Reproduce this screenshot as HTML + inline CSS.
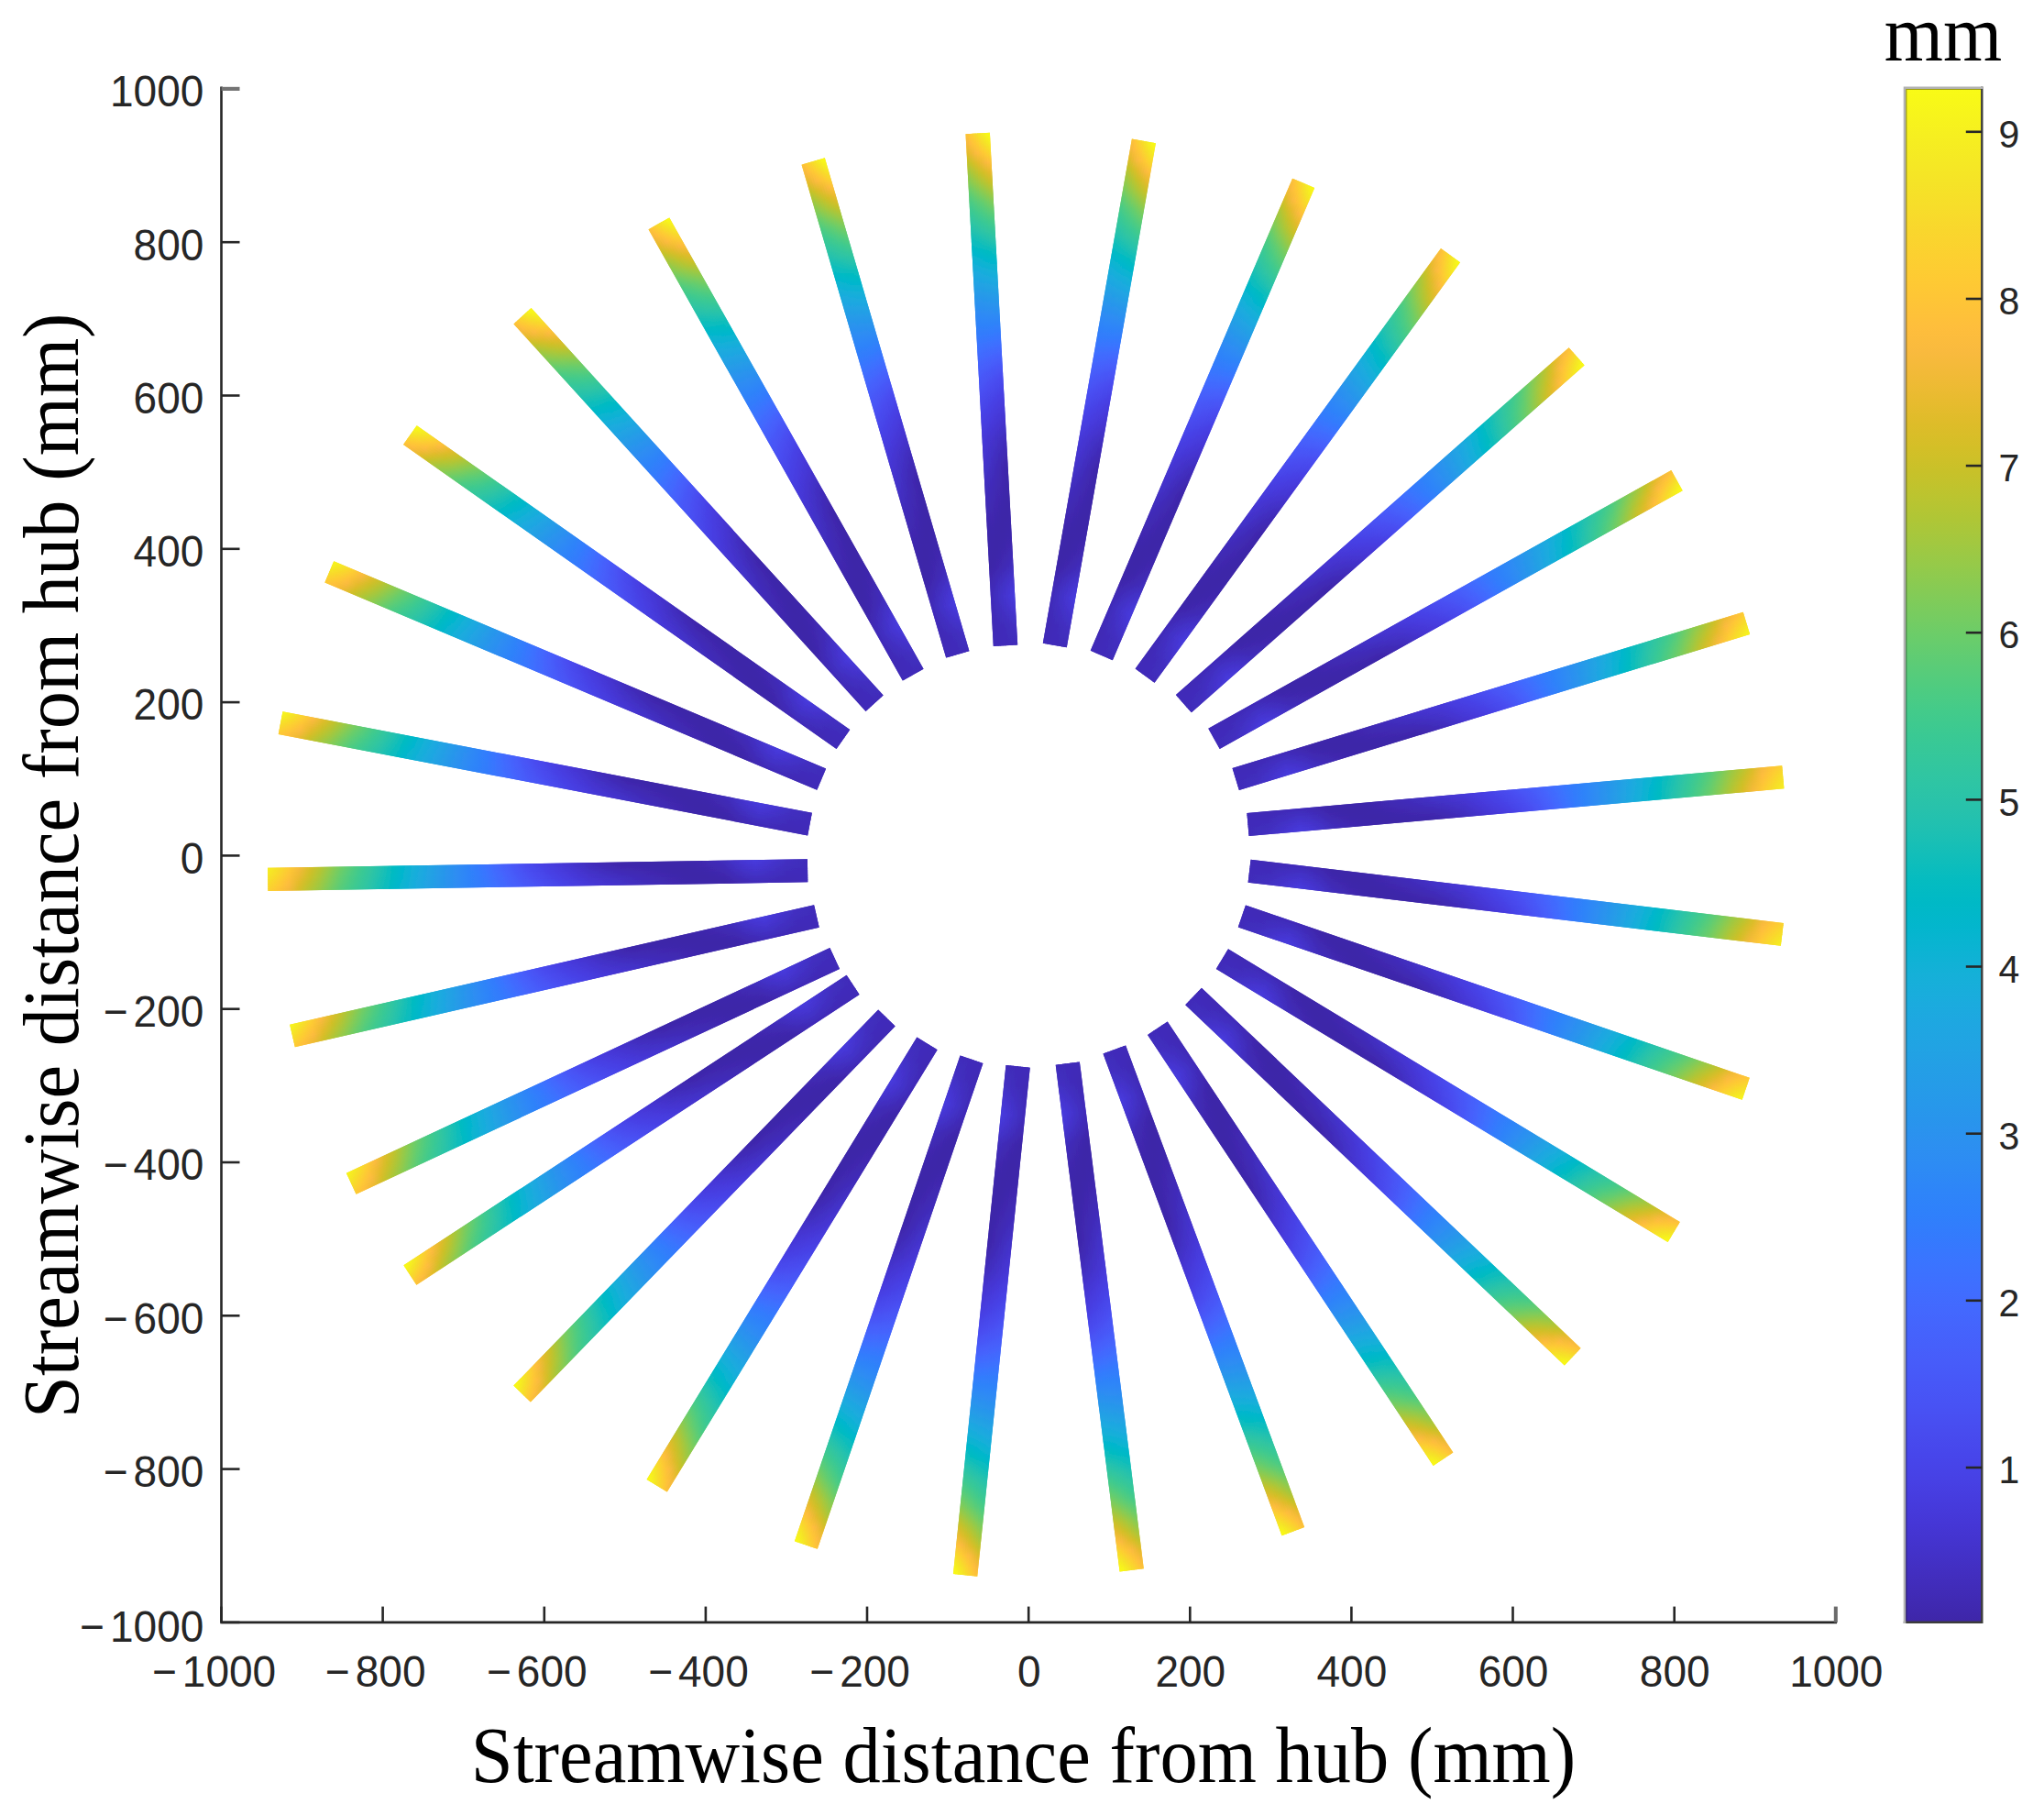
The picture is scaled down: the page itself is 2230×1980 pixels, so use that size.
<!DOCTYPE html>
<html lang="en"><head><meta charset="utf-8"><title>Blade deflection</title>
<style>html,body{margin:0;padding:0;background:#fff}svg{display:block}</style></head>
<body>
<svg width="2230" height="1980" viewBox="0 0 2230 1980">
<defs>
<linearGradient id="g0_0" x1="0" y1="0" x2="1" y2="0"><stop offset="0.0000" stop-color="#412cb9"/><stop offset="0.0192" stop-color="#412ebd"/><stop offset="0.0385" stop-color="#422fc2"/><stop offset="0.0577" stop-color="#4433cb"/><stop offset="0.0769" stop-color="#4537d5"/><stop offset="0.0962" stop-color="#463bdd"/><stop offset="0.1154" stop-color="#4537d6"/><stop offset="0.1346" stop-color="#4433cb"/><stop offset="0.1538" stop-color="#412ebd"/><stop offset="0.1731" stop-color="#402bb7"/><stop offset="0.1923" stop-color="#3f29b0"/><stop offset="0.2115" stop-color="#3e27ac"/><stop offset="0.2308" stop-color="#3e27aa"/><stop offset="0.2500" stop-color="#3e27a9"/><stop offset="0.2692" stop-color="#3e26a8"/><stop offset="0.2885" stop-color="#3e26a8"/><stop offset="0.3077" stop-color="#3e26a8"/><stop offset="0.3269" stop-color="#3e26a9"/><stop offset="0.3462" stop-color="#3e27a9"/><stop offset="0.3654" stop-color="#3f28ae"/><stop offset="0.3846" stop-color="#402ab5"/><stop offset="0.4038" stop-color="#412dbc"/><stop offset="0.4231" stop-color="#4331c7"/><stop offset="0.4423" stop-color="#4434d0"/><stop offset="0.4615" stop-color="#4538d8"/><stop offset="0.4808" stop-color="#463cdf"/><stop offset="0.5000" stop-color="#4742e7"/><stop offset="0.5192" stop-color="#484aee"/><stop offset="0.5385" stop-color="#4853f5"/><stop offset="0.5577" stop-color="#465dfb"/><stop offset="0.5769" stop-color="#4368fe"/><stop offset="0.5962" stop-color="#3b73ff"/><stop offset="0.6154" stop-color="#317dfc"/><stop offset="0.6346" stop-color="#2e86f7"/><stop offset="0.6538" stop-color="#2c8ff1"/><stop offset="0.6731" stop-color="#2797eb"/><stop offset="0.6923" stop-color="#23a0e5"/><stop offset="0.7115" stop-color="#1da9e0"/><stop offset="0.7308" stop-color="#14b0d8"/><stop offset="0.7500" stop-color="#03b6cd"/><stop offset="0.7692" stop-color="#05bcc0"/><stop offset="0.7885" stop-color="#20c1b1"/><stop offset="0.8077" stop-color="#30c5a1"/><stop offset="0.8269" stop-color="#3eca8f"/><stop offset="0.8462" stop-color="#56cc7b"/><stop offset="0.8654" stop-color="#70cd65"/><stop offset="0.8846" stop-color="#95ca49"/><stop offset="0.9038" stop-color="#bac430"/><stop offset="0.9231" stop-color="#d9be28"/><stop offset="0.9423" stop-color="#f6ba3c"/><stop offset="0.9615" stop-color="#fdcb33"/><stop offset="0.9808" stop-color="#f6de29"/><stop offset="1.0000" stop-color="#f6ef20"/></linearGradient>
<linearGradient id="g0_1" x1="0" y1="0" x2="1" y2="0"><stop offset="0.0000" stop-color="#412cb9"/><stop offset="0.0192" stop-color="#412dbd"/><stop offset="0.0385" stop-color="#422fc0"/><stop offset="0.0577" stop-color="#4332c9"/><stop offset="0.0769" stop-color="#4535d2"/><stop offset="0.0962" stop-color="#4639d9"/><stop offset="0.1154" stop-color="#4536d3"/><stop offset="0.1346" stop-color="#4331c8"/><stop offset="0.1538" stop-color="#412dbb"/><stop offset="0.1731" stop-color="#402ab5"/><stop offset="0.1923" stop-color="#3f28af"/><stop offset="0.2115" stop-color="#3e27ab"/><stop offset="0.2308" stop-color="#3e27a9"/><stop offset="0.2500" stop-color="#3e26a8"/><stop offset="0.2692" stop-color="#3e26a8"/><stop offset="0.2885" stop-color="#3e26a9"/><stop offset="0.3077" stop-color="#3e27aa"/><stop offset="0.3269" stop-color="#3e27ab"/><stop offset="0.3462" stop-color="#3e27ac"/><stop offset="0.3654" stop-color="#3f29b1"/><stop offset="0.3846" stop-color="#402bb8"/><stop offset="0.4038" stop-color="#422ebf"/><stop offset="0.4231" stop-color="#4332c9"/><stop offset="0.4423" stop-color="#4535d3"/><stop offset="0.4615" stop-color="#4639da"/><stop offset="0.4808" stop-color="#463ee1"/><stop offset="0.5000" stop-color="#4744e8"/><stop offset="0.5192" stop-color="#484bef"/><stop offset="0.5385" stop-color="#4854f5"/><stop offset="0.5577" stop-color="#465efb"/><stop offset="0.5769" stop-color="#4369fe"/><stop offset="0.5962" stop-color="#3a73ff"/><stop offset="0.6154" stop-color="#317dfc"/><stop offset="0.6346" stop-color="#2e86f7"/><stop offset="0.6538" stop-color="#2d8ef1"/><stop offset="0.6731" stop-color="#2796eb"/><stop offset="0.6923" stop-color="#249fe5"/><stop offset="0.7115" stop-color="#1da8e0"/><stop offset="0.7308" stop-color="#14b0d8"/><stop offset="0.7500" stop-color="#03b6cd"/><stop offset="0.7692" stop-color="#04bbc1"/><stop offset="0.7885" stop-color="#1fc0b2"/><stop offset="0.8077" stop-color="#30c5a2"/><stop offset="0.8269" stop-color="#3dc990"/><stop offset="0.8462" stop-color="#53cc7d"/><stop offset="0.8654" stop-color="#6dcd67"/><stop offset="0.8846" stop-color="#92ca4c"/><stop offset="0.9038" stop-color="#b6c532"/><stop offset="0.9231" stop-color="#d5be27"/><stop offset="0.9423" stop-color="#f3ba39"/><stop offset="0.9615" stop-color="#fec934"/><stop offset="0.9808" stop-color="#f7db2a"/><stop offset="1.0000" stop-color="#f5ec22"/></linearGradient>
<linearGradient id="g0_2" x1="0" y1="0" x2="1" y2="0"><stop offset="0.0000" stop-color="#412cb9"/><stop offset="0.0192" stop-color="#412dbc"/><stop offset="0.0385" stop-color="#422ebf"/><stop offset="0.0577" stop-color="#4331c7"/><stop offset="0.0769" stop-color="#4434cf"/><stop offset="0.0962" stop-color="#4537d6"/><stop offset="0.1154" stop-color="#4434cf"/><stop offset="0.1346" stop-color="#4330c5"/><stop offset="0.1538" stop-color="#412cb8"/><stop offset="0.1731" stop-color="#4029b2"/><stop offset="0.1923" stop-color="#3f28ad"/><stop offset="0.2115" stop-color="#3e27aa"/><stop offset="0.2308" stop-color="#3e26a9"/><stop offset="0.2500" stop-color="#3e26a8"/><stop offset="0.2692" stop-color="#3e26a9"/><stop offset="0.2885" stop-color="#3e27aa"/><stop offset="0.3077" stop-color="#3e27ac"/><stop offset="0.3269" stop-color="#3f28ae"/><stop offset="0.3462" stop-color="#3f28af"/><stop offset="0.3654" stop-color="#402ab4"/><stop offset="0.3846" stop-color="#412dbb"/><stop offset="0.4038" stop-color="#422fc2"/><stop offset="0.4231" stop-color="#4433cc"/><stop offset="0.4423" stop-color="#4537d5"/><stop offset="0.4615" stop-color="#463bdc"/><stop offset="0.4808" stop-color="#473fe3"/><stop offset="0.5000" stop-color="#4746ea"/><stop offset="0.5192" stop-color="#484df0"/><stop offset="0.5385" stop-color="#4855f6"/><stop offset="0.5577" stop-color="#465ffb"/><stop offset="0.5769" stop-color="#4269fe"/><stop offset="0.5962" stop-color="#3a74ff"/><stop offset="0.6154" stop-color="#317dfc"/><stop offset="0.6346" stop-color="#2e86f7"/><stop offset="0.6538" stop-color="#2d8ef1"/><stop offset="0.6731" stop-color="#2896eb"/><stop offset="0.6923" stop-color="#249fe5"/><stop offset="0.7115" stop-color="#1da8e0"/><stop offset="0.7308" stop-color="#15b0d8"/><stop offset="0.7500" stop-color="#04b6ce"/><stop offset="0.7692" stop-color="#03bbc1"/><stop offset="0.7885" stop-color="#1ec0b3"/><stop offset="0.8077" stop-color="#2fc5a3"/><stop offset="0.8269" stop-color="#3bc992"/><stop offset="0.8462" stop-color="#51cc7f"/><stop offset="0.8654" stop-color="#6acd69"/><stop offset="0.8846" stop-color="#8ecb4e"/><stop offset="0.9038" stop-color="#b3c534"/><stop offset="0.9231" stop-color="#d2bf27"/><stop offset="0.9423" stop-color="#f0ba36"/><stop offset="0.9615" stop-color="#fec636"/><stop offset="0.9808" stop-color="#f8d92c"/><stop offset="1.0000" stop-color="#f5e924"/></linearGradient>
<linearGradient id="g0_3" x1="0" y1="0" x2="1" y2="0"><stop offset="0.0000" stop-color="#412cb9"/><stop offset="0.0192" stop-color="#412dbb"/><stop offset="0.0385" stop-color="#412ebd"/><stop offset="0.0577" stop-color="#4330c4"/><stop offset="0.0769" stop-color="#4433cc"/><stop offset="0.0962" stop-color="#4535d2"/><stop offset="0.1154" stop-color="#4433cc"/><stop offset="0.1346" stop-color="#422fc2"/><stop offset="0.1538" stop-color="#402bb6"/><stop offset="0.1731" stop-color="#3f29b0"/><stop offset="0.1923" stop-color="#3e27ab"/><stop offset="0.2115" stop-color="#3e27a9"/><stop offset="0.2308" stop-color="#3e26a8"/><stop offset="0.2500" stop-color="#3e26a8"/><stop offset="0.2692" stop-color="#3e27aa"/><stop offset="0.2885" stop-color="#3e27ac"/><stop offset="0.3077" stop-color="#3f28ae"/><stop offset="0.3269" stop-color="#3f29b0"/><stop offset="0.3462" stop-color="#4029b3"/><stop offset="0.3654" stop-color="#402bb8"/><stop offset="0.3846" stop-color="#422ebe"/><stop offset="0.4038" stop-color="#4330c5"/><stop offset="0.4231" stop-color="#4434cf"/><stop offset="0.4423" stop-color="#4538d7"/><stop offset="0.4615" stop-color="#463cde"/><stop offset="0.4808" stop-color="#4741e5"/><stop offset="0.5000" stop-color="#4747eb"/><stop offset="0.5192" stop-color="#484ef1"/><stop offset="0.5385" stop-color="#4756f7"/><stop offset="0.5577" stop-color="#4660fc"/><stop offset="0.5769" stop-color="#426afe"/><stop offset="0.5962" stop-color="#3974ff"/><stop offset="0.6154" stop-color="#307efc"/><stop offset="0.6346" stop-color="#2e86f7"/><stop offset="0.6538" stop-color="#2d8ef1"/><stop offset="0.6731" stop-color="#2896eb"/><stop offset="0.6923" stop-color="#249fe5"/><stop offset="0.7115" stop-color="#1ea8e1"/><stop offset="0.7308" stop-color="#16afd9"/><stop offset="0.7500" stop-color="#05b6ce"/><stop offset="0.7692" stop-color="#03bbc2"/><stop offset="0.7885" stop-color="#1cc0b4"/><stop offset="0.8077" stop-color="#2ec4a4"/><stop offset="0.8269" stop-color="#3ac993"/><stop offset="0.8462" stop-color="#4fcc81"/><stop offset="0.8654" stop-color="#68cd6c"/><stop offset="0.8846" stop-color="#8bcb51"/><stop offset="0.9038" stop-color="#afc636"/><stop offset="0.9231" stop-color="#cec027"/><stop offset="0.9423" stop-color="#edba33"/><stop offset="0.9615" stop-color="#fec438"/><stop offset="0.9808" stop-color="#fad62d"/><stop offset="1.0000" stop-color="#f5e626"/></linearGradient>
<linearGradient id="g0_4" x1="0" y1="0" x2="1" y2="0"><stop offset="0.0000" stop-color="#412cb9"/><stop offset="0.0192" stop-color="#412cba"/><stop offset="0.0385" stop-color="#412dbc"/><stop offset="0.0577" stop-color="#422fc2"/><stop offset="0.0769" stop-color="#4332c9"/><stop offset="0.0962" stop-color="#4434ce"/><stop offset="0.1154" stop-color="#4331c8"/><stop offset="0.1346" stop-color="#422ebf"/><stop offset="0.1538" stop-color="#402ab3"/><stop offset="0.1731" stop-color="#3f28ae"/><stop offset="0.1923" stop-color="#3e27aa"/><stop offset="0.2115" stop-color="#3e26a9"/><stop offset="0.2308" stop-color="#3e26a8"/><stop offset="0.2500" stop-color="#3e27a9"/><stop offset="0.2692" stop-color="#3e27ab"/><stop offset="0.2885" stop-color="#3f28ae"/><stop offset="0.3077" stop-color="#3f29b0"/><stop offset="0.3269" stop-color="#402ab3"/><stop offset="0.3462" stop-color="#402bb6"/><stop offset="0.3654" stop-color="#412dbb"/><stop offset="0.3846" stop-color="#422fc2"/><stop offset="0.4038" stop-color="#4332c8"/><stop offset="0.4231" stop-color="#4435d1"/><stop offset="0.4423" stop-color="#4639d9"/><stop offset="0.4615" stop-color="#463de0"/><stop offset="0.4808" stop-color="#4742e6"/><stop offset="0.5000" stop-color="#4849ed"/><stop offset="0.5192" stop-color="#4850f2"/><stop offset="0.5385" stop-color="#4757f7"/><stop offset="0.5577" stop-color="#4661fc"/><stop offset="0.5769" stop-color="#416bfe"/><stop offset="0.5962" stop-color="#3975ff"/><stop offset="0.6154" stop-color="#307efc"/><stop offset="0.6346" stop-color="#2e86f7"/><stop offset="0.6538" stop-color="#2d8ef1"/><stop offset="0.6731" stop-color="#2896ec"/><stop offset="0.6923" stop-color="#249fe6"/><stop offset="0.7115" stop-color="#1ea7e1"/><stop offset="0.7308" stop-color="#16afd9"/><stop offset="0.7500" stop-color="#06b5cf"/><stop offset="0.7692" stop-color="#02bbc3"/><stop offset="0.7885" stop-color="#1bc0b4"/><stop offset="0.8077" stop-color="#2dc4a5"/><stop offset="0.8269" stop-color="#39c995"/><stop offset="0.8462" stop-color="#4ccb83"/><stop offset="0.8654" stop-color="#65cd6e"/><stop offset="0.8846" stop-color="#87cb54"/><stop offset="0.9038" stop-color="#acc739"/><stop offset="0.9231" stop-color="#cbc128"/><stop offset="0.9423" stop-color="#eaba30"/><stop offset="0.9615" stop-color="#fec239"/><stop offset="0.9808" stop-color="#fbd32e"/><stop offset="1.0000" stop-color="#f5e327"/></linearGradient>
<linearGradient id="g0_5" x1="0" y1="0" x2="1" y2="0"><stop offset="0.0000" stop-color="#412cb9"/><stop offset="0.0192" stop-color="#412cba"/><stop offset="0.0385" stop-color="#412cba"/><stop offset="0.0577" stop-color="#422ec0"/><stop offset="0.0769" stop-color="#4330c5"/><stop offset="0.0962" stop-color="#4332ca"/><stop offset="0.1154" stop-color="#4330c4"/><stop offset="0.1346" stop-color="#412dbb"/><stop offset="0.1538" stop-color="#3f29b1"/><stop offset="0.1731" stop-color="#3e27ac"/><stop offset="0.1923" stop-color="#3e26a9"/><stop offset="0.2115" stop-color="#3e26a8"/><stop offset="0.2308" stop-color="#3e26a9"/><stop offset="0.2500" stop-color="#3e27aa"/><stop offset="0.2692" stop-color="#3f27ad"/><stop offset="0.2885" stop-color="#3f28b0"/><stop offset="0.3077" stop-color="#4029b3"/><stop offset="0.3269" stop-color="#402bb6"/><stop offset="0.3462" stop-color="#412cba"/><stop offset="0.3654" stop-color="#422ebf"/><stop offset="0.3846" stop-color="#4330c5"/><stop offset="0.4038" stop-color="#4433cb"/><stop offset="0.4231" stop-color="#4536d4"/><stop offset="0.4423" stop-color="#463adc"/><stop offset="0.4615" stop-color="#473fe2"/><stop offset="0.4808" stop-color="#4744e8"/><stop offset="0.5000" stop-color="#484aee"/><stop offset="0.5192" stop-color="#4851f3"/><stop offset="0.5385" stop-color="#4759f8"/><stop offset="0.5577" stop-color="#4562fc"/><stop offset="0.5769" stop-color="#416cfe"/><stop offset="0.5962" stop-color="#3975fe"/><stop offset="0.6154" stop-color="#307efb"/><stop offset="0.6346" stop-color="#2e86f8"/><stop offset="0.6538" stop-color="#2d8ef1"/><stop offset="0.6731" stop-color="#2895ec"/><stop offset="0.6923" stop-color="#249ee6"/><stop offset="0.7115" stop-color="#1ea7e1"/><stop offset="0.7308" stop-color="#17afda"/><stop offset="0.7500" stop-color="#06b5cf"/><stop offset="0.7692" stop-color="#02bac4"/><stop offset="0.7885" stop-color="#19bfb5"/><stop offset="0.8077" stop-color="#2cc4a6"/><stop offset="0.8269" stop-color="#38c896"/><stop offset="0.8462" stop-color="#4acb84"/><stop offset="0.8654" stop-color="#62cd70"/><stop offset="0.8846" stop-color="#84cc56"/><stop offset="0.9038" stop-color="#a8c73b"/><stop offset="0.9231" stop-color="#c7c129"/><stop offset="0.9423" stop-color="#e6bb2d"/><stop offset="0.9615" stop-color="#febf3b"/><stop offset="0.9808" stop-color="#fcd030"/><stop offset="1.0000" stop-color="#f6e028"/></linearGradient>
<linearGradient id="g0_6" x1="0" y1="0" x2="1" y2="0"><stop offset="0.0000" stop-color="#412cb9"/><stop offset="0.0192" stop-color="#412cb9"/><stop offset="0.0385" stop-color="#412cb9"/><stop offset="0.0577" stop-color="#412ebe"/><stop offset="0.0769" stop-color="#422fc2"/><stop offset="0.0962" stop-color="#4331c6"/><stop offset="0.1154" stop-color="#422fc1"/><stop offset="0.1346" stop-color="#412cb8"/><stop offset="0.1538" stop-color="#3f28ae"/><stop offset="0.1731" stop-color="#3e27aa"/><stop offset="0.1923" stop-color="#3e26a8"/><stop offset="0.2115" stop-color="#3e26a8"/><stop offset="0.2308" stop-color="#3e27a9"/><stop offset="0.2500" stop-color="#3e27ac"/><stop offset="0.2692" stop-color="#3f28af"/><stop offset="0.2885" stop-color="#3f29b2"/><stop offset="0.3077" stop-color="#402ab5"/><stop offset="0.3269" stop-color="#412cb9"/><stop offset="0.3462" stop-color="#412ebd"/><stop offset="0.3654" stop-color="#422fc3"/><stop offset="0.3846" stop-color="#4332c8"/><stop offset="0.4038" stop-color="#4434ce"/><stop offset="0.4231" stop-color="#4537d6"/><stop offset="0.4423" stop-color="#463bde"/><stop offset="0.4615" stop-color="#4740e4"/><stop offset="0.4808" stop-color="#4745e9"/><stop offset="0.5000" stop-color="#484cef"/><stop offset="0.5192" stop-color="#4852f4"/><stop offset="0.5385" stop-color="#475af9"/><stop offset="0.5577" stop-color="#4563fd"/><stop offset="0.5769" stop-color="#406cfe"/><stop offset="0.5962" stop-color="#3876fe"/><stop offset="0.6154" stop-color="#307efb"/><stop offset="0.6346" stop-color="#2e86f8"/><stop offset="0.6538" stop-color="#2d8ef2"/><stop offset="0.6731" stop-color="#2895ec"/><stop offset="0.6923" stop-color="#249ee6"/><stop offset="0.7115" stop-color="#1ea7e1"/><stop offset="0.7308" stop-color="#17aeda"/><stop offset="0.7500" stop-color="#07b5d0"/><stop offset="0.7692" stop-color="#01bac4"/><stop offset="0.7885" stop-color="#17bfb6"/><stop offset="0.8077" stop-color="#2bc3a8"/><stop offset="0.8269" stop-color="#37c898"/><stop offset="0.8462" stop-color="#48cb86"/><stop offset="0.8654" stop-color="#5fcd73"/><stop offset="0.8846" stop-color="#80cc59"/><stop offset="0.9038" stop-color="#a4c83e"/><stop offset="0.9231" stop-color="#c3c22b"/><stop offset="0.9423" stop-color="#e3bc2b"/><stop offset="0.9615" stop-color="#febd3d"/><stop offset="0.9808" stop-color="#fdcd31"/><stop offset="1.0000" stop-color="#f7dd2a"/></linearGradient>
<linearGradient id="g0_7" x1="0" y1="0" x2="1" y2="0"><stop offset="0.0000" stop-color="#412cb9"/><stop offset="0.0192" stop-color="#412cb8"/><stop offset="0.0385" stop-color="#402bb8"/><stop offset="0.0577" stop-color="#412dbb"/><stop offset="0.0769" stop-color="#422ebf"/><stop offset="0.0962" stop-color="#422fc2"/><stop offset="0.1154" stop-color="#412dbd"/><stop offset="0.1346" stop-color="#402ab5"/><stop offset="0.1538" stop-color="#3e27ac"/><stop offset="0.1731" stop-color="#3e26a9"/><stop offset="0.1923" stop-color="#3e26a8"/><stop offset="0.2115" stop-color="#3e26a9"/><stop offset="0.2308" stop-color="#3e27aa"/><stop offset="0.2500" stop-color="#3f28ad"/><stop offset="0.2692" stop-color="#3f29b0"/><stop offset="0.2885" stop-color="#402ab4"/><stop offset="0.3077" stop-color="#402bb8"/><stop offset="0.3269" stop-color="#412dbc"/><stop offset="0.3462" stop-color="#422fc1"/><stop offset="0.3654" stop-color="#4331c6"/><stop offset="0.3846" stop-color="#4433cc"/><stop offset="0.4038" stop-color="#4435d1"/><stop offset="0.4231" stop-color="#4539d9"/><stop offset="0.4423" stop-color="#463de0"/><stop offset="0.4615" stop-color="#4741e6"/><stop offset="0.4808" stop-color="#4747eb"/><stop offset="0.5000" stop-color="#484df1"/><stop offset="0.5192" stop-color="#4854f5"/><stop offset="0.5385" stop-color="#475bf9"/><stop offset="0.5577" stop-color="#4564fd"/><stop offset="0.5769" stop-color="#406dfe"/><stop offset="0.5962" stop-color="#3876fe"/><stop offset="0.6154" stop-color="#307efb"/><stop offset="0.6346" stop-color="#2e86f8"/><stop offset="0.6538" stop-color="#2d8df2"/><stop offset="0.6731" stop-color="#2895ec"/><stop offset="0.6923" stop-color="#249ee6"/><stop offset="0.7115" stop-color="#1fa6e2"/><stop offset="0.7308" stop-color="#18aedb"/><stop offset="0.7500" stop-color="#08b4d1"/><stop offset="0.7692" stop-color="#01bac5"/><stop offset="0.7885" stop-color="#16bfb7"/><stop offset="0.8077" stop-color="#2ac3a9"/><stop offset="0.8269" stop-color="#36c899"/><stop offset="0.8462" stop-color="#46cb88"/><stop offset="0.8654" stop-color="#5dcc75"/><stop offset="0.8846" stop-color="#7dcc5c"/><stop offset="0.9038" stop-color="#a0c840"/><stop offset="0.9231" stop-color="#bfc32d"/><stop offset="0.9423" stop-color="#dfbc2a"/><stop offset="0.9615" stop-color="#fcbc3e"/><stop offset="0.9808" stop-color="#fecb33"/><stop offset="1.0000" stop-color="#f8d92b"/></linearGradient>
<linearGradient id="g0_8" x1="0" y1="0" x2="1" y2="0"><stop offset="0.0000" stop-color="#412cb9"/><stop offset="0.0192" stop-color="#402bb8"/><stop offset="0.0385" stop-color="#402bb6"/><stop offset="0.0577" stop-color="#412cb9"/><stop offset="0.0769" stop-color="#412dbc"/><stop offset="0.0962" stop-color="#412ebe"/><stop offset="0.1154" stop-color="#412cb9"/><stop offset="0.1346" stop-color="#3f29b2"/><stop offset="0.1538" stop-color="#3e27aa"/><stop offset="0.1731" stop-color="#3e26a8"/><stop offset="0.1923" stop-color="#3e26a9"/><stop offset="0.2115" stop-color="#3e27a9"/><stop offset="0.2308" stop-color="#3e27ab"/><stop offset="0.2500" stop-color="#3f28af"/><stop offset="0.2692" stop-color="#3f29b2"/><stop offset="0.2885" stop-color="#402bb6"/><stop offset="0.3077" stop-color="#412cba"/><stop offset="0.3269" stop-color="#422ebf"/><stop offset="0.3462" stop-color="#4330c5"/><stop offset="0.3654" stop-color="#4332ca"/><stop offset="0.3846" stop-color="#4434cf"/><stop offset="0.4038" stop-color="#4536d4"/><stop offset="0.4231" stop-color="#463adb"/><stop offset="0.4423" stop-color="#473ee1"/><stop offset="0.4615" stop-color="#4743e7"/><stop offset="0.4808" stop-color="#4848ec"/><stop offset="0.5000" stop-color="#484ff2"/><stop offset="0.5192" stop-color="#4855f6"/><stop offset="0.5385" stop-color="#475cfa"/><stop offset="0.5577" stop-color="#4465fd"/><stop offset="0.5769" stop-color="#3f6eff"/><stop offset="0.5962" stop-color="#3777fe"/><stop offset="0.6154" stop-color="#307efb"/><stop offset="0.6346" stop-color="#2e86f8"/><stop offset="0.6538" stop-color="#2d8df2"/><stop offset="0.6731" stop-color="#2895ec"/><stop offset="0.6923" stop-color="#249de6"/><stop offset="0.7115" stop-color="#1fa6e2"/><stop offset="0.7308" stop-color="#18aedb"/><stop offset="0.7500" stop-color="#09b4d1"/><stop offset="0.7692" stop-color="#00b9c6"/><stop offset="0.7885" stop-color="#14beb8"/><stop offset="0.8077" stop-color="#29c3aa"/><stop offset="0.8269" stop-color="#35c79a"/><stop offset="0.8462" stop-color="#44cb8a"/><stop offset="0.8654" stop-color="#5acc77"/><stop offset="0.8846" stop-color="#79cc5e"/><stop offset="0.9038" stop-color="#9dc943"/><stop offset="0.9231" stop-color="#bbc42f"/><stop offset="0.9423" stop-color="#dbbd29"/><stop offset="0.9615" stop-color="#faba3e"/><stop offset="0.9808" stop-color="#fec835"/><stop offset="1.0000" stop-color="#f9d62d"/></linearGradient>
<linearGradient id="g0_9" x1="0" y1="0" x2="1" y2="0"><stop offset="0.0000" stop-color="#412cb9"/><stop offset="0.0192" stop-color="#402bb7"/><stop offset="0.0385" stop-color="#402ab5"/><stop offset="0.0577" stop-color="#402bb7"/><stop offset="0.0769" stop-color="#412cb9"/><stop offset="0.0962" stop-color="#412cba"/><stop offset="0.1154" stop-color="#402bb6"/><stop offset="0.1346" stop-color="#3f28af"/><stop offset="0.1538" stop-color="#3e26a8"/><stop offset="0.1731" stop-color="#3e26a9"/><stop offset="0.1923" stop-color="#3e27aa"/><stop offset="0.2115" stop-color="#3e27aa"/><stop offset="0.2308" stop-color="#3e27ac"/><stop offset="0.2500" stop-color="#3f28b0"/><stop offset="0.2692" stop-color="#402ab4"/><stop offset="0.2885" stop-color="#402bb8"/><stop offset="0.3077" stop-color="#412dbc"/><stop offset="0.3269" stop-color="#422fc2"/><stop offset="0.3462" stop-color="#4331c8"/><stop offset="0.3654" stop-color="#4433cd"/><stop offset="0.3846" stop-color="#4535d2"/><stop offset="0.4038" stop-color="#4538d7"/><stop offset="0.4231" stop-color="#463bdd"/><stop offset="0.4423" stop-color="#473fe3"/><stop offset="0.4615" stop-color="#4744e9"/><stop offset="0.4808" stop-color="#484aed"/><stop offset="0.5000" stop-color="#4850f3"/><stop offset="0.5192" stop-color="#4757f7"/><stop offset="0.5385" stop-color="#465dfb"/><stop offset="0.5577" stop-color="#4466fd"/><stop offset="0.5769" stop-color="#3f6fff"/><stop offset="0.5962" stop-color="#3777fe"/><stop offset="0.6154" stop-color="#307efb"/><stop offset="0.6346" stop-color="#2e86f8"/><stop offset="0.6538" stop-color="#2d8df2"/><stop offset="0.6731" stop-color="#2995ec"/><stop offset="0.6923" stop-color="#259de6"/><stop offset="0.7115" stop-color="#1fa6e2"/><stop offset="0.7308" stop-color="#18addb"/><stop offset="0.7500" stop-color="#0ab4d2"/><stop offset="0.7692" stop-color="#00b9c6"/><stop offset="0.7885" stop-color="#12beb9"/><stop offset="0.8077" stop-color="#28c3ab"/><stop offset="0.8269" stop-color="#34c79c"/><stop offset="0.8462" stop-color="#42ca8c"/><stop offset="0.8654" stop-color="#57cc7a"/><stop offset="0.8846" stop-color="#75cc61"/><stop offset="0.9038" stop-color="#99c946"/><stop offset="0.9231" stop-color="#b7c532"/><stop offset="0.9423" stop-color="#d8be28"/><stop offset="0.9615" stop-color="#f6ba3c"/><stop offset="0.9808" stop-color="#fec537"/><stop offset="1.0000" stop-color="#fbd32e"/></linearGradient>
<linearGradient id="g1_0" x1="0" y1="0" x2="1" y2="0"><stop offset="0.0000" stop-color="#412cb9"/><stop offset="0.0192" stop-color="#412ebd"/><stop offset="0.0385" stop-color="#422fc2"/><stop offset="0.0577" stop-color="#4433cb"/><stop offset="0.0769" stop-color="#4537d5"/><stop offset="0.0962" stop-color="#463bdd"/><stop offset="0.1154" stop-color="#4537d6"/><stop offset="0.1346" stop-color="#4433cb"/><stop offset="0.1538" stop-color="#412ebd"/><stop offset="0.1731" stop-color="#402bb7"/><stop offset="0.1923" stop-color="#3f29b0"/><stop offset="0.2115" stop-color="#3e27ac"/><stop offset="0.2308" stop-color="#3e27aa"/><stop offset="0.2500" stop-color="#3e27a9"/><stop offset="0.2692" stop-color="#3e26a8"/><stop offset="0.2885" stop-color="#3e26a8"/><stop offset="0.3077" stop-color="#3e26a8"/><stop offset="0.3269" stop-color="#3e26a9"/><stop offset="0.3462" stop-color="#3e27a9"/><stop offset="0.3654" stop-color="#3f28ae"/><stop offset="0.3846" stop-color="#402ab5"/><stop offset="0.4038" stop-color="#412dbc"/><stop offset="0.4231" stop-color="#4331c7"/><stop offset="0.4423" stop-color="#4434d0"/><stop offset="0.4615" stop-color="#4538d8"/><stop offset="0.4808" stop-color="#463cdf"/><stop offset="0.5000" stop-color="#4742e7"/><stop offset="0.5192" stop-color="#484aee"/><stop offset="0.5385" stop-color="#4853f5"/><stop offset="0.5577" stop-color="#465dfb"/><stop offset="0.5769" stop-color="#4368fe"/><stop offset="0.5962" stop-color="#3b73ff"/><stop offset="0.6154" stop-color="#317dfc"/><stop offset="0.6346" stop-color="#2e86f7"/><stop offset="0.6538" stop-color="#2c8ff0"/><stop offset="0.6731" stop-color="#2797eb"/><stop offset="0.6923" stop-color="#23a0e5"/><stop offset="0.7115" stop-color="#1ca9df"/><stop offset="0.7308" stop-color="#12b1d6"/><stop offset="0.7500" stop-color="#01b7cb"/><stop offset="0.7692" stop-color="#08bcbe"/><stop offset="0.7885" stop-color="#24c1ae"/><stop offset="0.8077" stop-color="#32c69e"/><stop offset="0.8269" stop-color="#42ca8b"/><stop offset="0.8462" stop-color="#5ccc76"/><stop offset="0.8654" stop-color="#79cc5e"/><stop offset="0.8846" stop-color="#9ec942"/><stop offset="0.9038" stop-color="#c3c22b"/><stop offset="0.9231" stop-color="#e1bc2b"/><stop offset="0.9423" stop-color="#fdbc3e"/><stop offset="0.9615" stop-color="#fbd22f"/><stop offset="0.9808" stop-color="#f5e626"/><stop offset="1.0000" stop-color="#f8f719"/></linearGradient>
<linearGradient id="g1_1" x1="0" y1="0" x2="1" y2="0"><stop offset="0.0000" stop-color="#412cb9"/><stop offset="0.0192" stop-color="#412dbd"/><stop offset="0.0385" stop-color="#422fc0"/><stop offset="0.0577" stop-color="#4332c9"/><stop offset="0.0769" stop-color="#4535d2"/><stop offset="0.0962" stop-color="#4639d9"/><stop offset="0.1154" stop-color="#4536d3"/><stop offset="0.1346" stop-color="#4331c8"/><stop offset="0.1538" stop-color="#412dbb"/><stop offset="0.1731" stop-color="#402ab5"/><stop offset="0.1923" stop-color="#3f28af"/><stop offset="0.2115" stop-color="#3e27ab"/><stop offset="0.2308" stop-color="#3e27a9"/><stop offset="0.2500" stop-color="#3e26a8"/><stop offset="0.2692" stop-color="#3e26a8"/><stop offset="0.2885" stop-color="#3e26a9"/><stop offset="0.3077" stop-color="#3e27aa"/><stop offset="0.3269" stop-color="#3e27ab"/><stop offset="0.3462" stop-color="#3e27ac"/><stop offset="0.3654" stop-color="#3f29b1"/><stop offset="0.3846" stop-color="#402bb8"/><stop offset="0.4038" stop-color="#422ebf"/><stop offset="0.4231" stop-color="#4332c9"/><stop offset="0.4423" stop-color="#4535d3"/><stop offset="0.4615" stop-color="#4639da"/><stop offset="0.4808" stop-color="#463ee1"/><stop offset="0.5000" stop-color="#4744e8"/><stop offset="0.5192" stop-color="#484bef"/><stop offset="0.5385" stop-color="#4854f5"/><stop offset="0.5577" stop-color="#465efb"/><stop offset="0.5769" stop-color="#4369fe"/><stop offset="0.5962" stop-color="#3a73ff"/><stop offset="0.6154" stop-color="#317dfc"/><stop offset="0.6346" stop-color="#2e86f7"/><stop offset="0.6538" stop-color="#2c8ff1"/><stop offset="0.6731" stop-color="#2797eb"/><stop offset="0.6923" stop-color="#23a0e5"/><stop offset="0.7115" stop-color="#1da9e0"/><stop offset="0.7308" stop-color="#13b0d7"/><stop offset="0.7500" stop-color="#02b7cc"/><stop offset="0.7692" stop-color="#06bcbf"/><stop offset="0.7885" stop-color="#22c1b0"/><stop offset="0.8077" stop-color="#31c6a0"/><stop offset="0.8269" stop-color="#40ca8d"/><stop offset="0.8462" stop-color="#58cc79"/><stop offset="0.8654" stop-color="#74cd62"/><stop offset="0.8846" stop-color="#99c946"/><stop offset="0.9038" stop-color="#bec32e"/><stop offset="0.9231" stop-color="#dcbd29"/><stop offset="0.9423" stop-color="#f9ba3e"/><stop offset="0.9615" stop-color="#fdce31"/><stop offset="0.9808" stop-color="#f5e128"/><stop offset="1.0000" stop-color="#f6f21e"/></linearGradient>
<linearGradient id="g1_2" x1="0" y1="0" x2="1" y2="0"><stop offset="0.0000" stop-color="#412cb9"/><stop offset="0.0192" stop-color="#412dbc"/><stop offset="0.0385" stop-color="#422ebf"/><stop offset="0.0577" stop-color="#4331c7"/><stop offset="0.0769" stop-color="#4434cf"/><stop offset="0.0962" stop-color="#4537d6"/><stop offset="0.1154" stop-color="#4434cf"/><stop offset="0.1346" stop-color="#4330c5"/><stop offset="0.1538" stop-color="#412cb8"/><stop offset="0.1731" stop-color="#4029b2"/><stop offset="0.1923" stop-color="#3f28ad"/><stop offset="0.2115" stop-color="#3e27aa"/><stop offset="0.2308" stop-color="#3e26a9"/><stop offset="0.2500" stop-color="#3e26a8"/><stop offset="0.2692" stop-color="#3e26a9"/><stop offset="0.2885" stop-color="#3e27aa"/><stop offset="0.3077" stop-color="#3e27ac"/><stop offset="0.3269" stop-color="#3f28ae"/><stop offset="0.3462" stop-color="#3f28af"/><stop offset="0.3654" stop-color="#402ab4"/><stop offset="0.3846" stop-color="#412dbb"/><stop offset="0.4038" stop-color="#422fc2"/><stop offset="0.4231" stop-color="#4433cc"/><stop offset="0.4423" stop-color="#4537d5"/><stop offset="0.4615" stop-color="#463bdc"/><stop offset="0.4808" stop-color="#473fe3"/><stop offset="0.5000" stop-color="#4746ea"/><stop offset="0.5192" stop-color="#484df0"/><stop offset="0.5385" stop-color="#4855f6"/><stop offset="0.5577" stop-color="#465ffb"/><stop offset="0.5769" stop-color="#4269fe"/><stop offset="0.5962" stop-color="#3a74ff"/><stop offset="0.6154" stop-color="#317dfc"/><stop offset="0.6346" stop-color="#2e86f7"/><stop offset="0.6538" stop-color="#2c8ff1"/><stop offset="0.6731" stop-color="#2796eb"/><stop offset="0.6923" stop-color="#23a0e5"/><stop offset="0.7115" stop-color="#1da8e0"/><stop offset="0.7308" stop-color="#14b0d8"/><stop offset="0.7500" stop-color="#03b6cd"/><stop offset="0.7692" stop-color="#05bcc0"/><stop offset="0.7885" stop-color="#20c1b1"/><stop offset="0.8077" stop-color="#30c5a1"/><stop offset="0.8269" stop-color="#3dca90"/><stop offset="0.8462" stop-color="#54cc7c"/><stop offset="0.8654" stop-color="#6fcd66"/><stop offset="0.8846" stop-color="#93ca4a"/><stop offset="0.9038" stop-color="#b8c431"/><stop offset="0.9231" stop-color="#d7be28"/><stop offset="0.9423" stop-color="#f4ba3a"/><stop offset="0.9615" stop-color="#feca33"/><stop offset="0.9808" stop-color="#f7dd2a"/><stop offset="1.0000" stop-color="#f5ee21"/></linearGradient>
<linearGradient id="g1_3" x1="0" y1="0" x2="1" y2="0"><stop offset="0.0000" stop-color="#412cb9"/><stop offset="0.0192" stop-color="#412dbb"/><stop offset="0.0385" stop-color="#412ebd"/><stop offset="0.0577" stop-color="#4330c4"/><stop offset="0.0769" stop-color="#4433cc"/><stop offset="0.0962" stop-color="#4535d2"/><stop offset="0.1154" stop-color="#4433cc"/><stop offset="0.1346" stop-color="#422fc2"/><stop offset="0.1538" stop-color="#402bb6"/><stop offset="0.1731" stop-color="#3f29b0"/><stop offset="0.1923" stop-color="#3e27ab"/><stop offset="0.2115" stop-color="#3e27a9"/><stop offset="0.2308" stop-color="#3e26a8"/><stop offset="0.2500" stop-color="#3e26a8"/><stop offset="0.2692" stop-color="#3e27aa"/><stop offset="0.2885" stop-color="#3e27ac"/><stop offset="0.3077" stop-color="#3f28ae"/><stop offset="0.3269" stop-color="#3f29b0"/><stop offset="0.3462" stop-color="#4029b3"/><stop offset="0.3654" stop-color="#402bb8"/><stop offset="0.3846" stop-color="#422ebe"/><stop offset="0.4038" stop-color="#4330c5"/><stop offset="0.4231" stop-color="#4434cf"/><stop offset="0.4423" stop-color="#4538d7"/><stop offset="0.4615" stop-color="#463cde"/><stop offset="0.4808" stop-color="#4741e5"/><stop offset="0.5000" stop-color="#4747eb"/><stop offset="0.5192" stop-color="#484ef1"/><stop offset="0.5385" stop-color="#4756f7"/><stop offset="0.5577" stop-color="#4660fc"/><stop offset="0.5769" stop-color="#426afe"/><stop offset="0.5962" stop-color="#3974ff"/><stop offset="0.6154" stop-color="#307efc"/><stop offset="0.6346" stop-color="#2e86f7"/><stop offset="0.6538" stop-color="#2d8ef1"/><stop offset="0.6731" stop-color="#2896eb"/><stop offset="0.6923" stop-color="#249fe5"/><stop offset="0.7115" stop-color="#1da8e1"/><stop offset="0.7308" stop-color="#15b0d8"/><stop offset="0.7500" stop-color="#04b6ce"/><stop offset="0.7692" stop-color="#03bbc1"/><stop offset="0.7885" stop-color="#1dc0b3"/><stop offset="0.8077" stop-color="#2fc5a3"/><stop offset="0.8269" stop-color="#3bc992"/><stop offset="0.8462" stop-color="#51cc7f"/><stop offset="0.8654" stop-color="#6acd6a"/><stop offset="0.8846" stop-color="#8ecb4f"/><stop offset="0.9038" stop-color="#b2c534"/><stop offset="0.9231" stop-color="#d1bf27"/><stop offset="0.9423" stop-color="#efba35"/><stop offset="0.9615" stop-color="#fec636"/><stop offset="0.9808" stop-color="#f8d82c"/><stop offset="1.0000" stop-color="#f5e924"/></linearGradient>
<linearGradient id="g1_4" x1="0" y1="0" x2="1" y2="0"><stop offset="0.0000" stop-color="#412cb9"/><stop offset="0.0192" stop-color="#412cba"/><stop offset="0.0385" stop-color="#412dbc"/><stop offset="0.0577" stop-color="#422fc2"/><stop offset="0.0769" stop-color="#4332c9"/><stop offset="0.0962" stop-color="#4434ce"/><stop offset="0.1154" stop-color="#4331c8"/><stop offset="0.1346" stop-color="#422ebf"/><stop offset="0.1538" stop-color="#402ab3"/><stop offset="0.1731" stop-color="#3f28ae"/><stop offset="0.1923" stop-color="#3e27aa"/><stop offset="0.2115" stop-color="#3e26a9"/><stop offset="0.2308" stop-color="#3e26a8"/><stop offset="0.2500" stop-color="#3e27a9"/><stop offset="0.2692" stop-color="#3e27ab"/><stop offset="0.2885" stop-color="#3f28ae"/><stop offset="0.3077" stop-color="#3f29b0"/><stop offset="0.3269" stop-color="#402ab3"/><stop offset="0.3462" stop-color="#402bb6"/><stop offset="0.3654" stop-color="#412dbb"/><stop offset="0.3846" stop-color="#422fc2"/><stop offset="0.4038" stop-color="#4332c8"/><stop offset="0.4231" stop-color="#4435d1"/><stop offset="0.4423" stop-color="#4639d9"/><stop offset="0.4615" stop-color="#463de0"/><stop offset="0.4808" stop-color="#4742e6"/><stop offset="0.5000" stop-color="#4849ed"/><stop offset="0.5192" stop-color="#4850f2"/><stop offset="0.5385" stop-color="#4757f7"/><stop offset="0.5577" stop-color="#4661fc"/><stop offset="0.5769" stop-color="#416bfe"/><stop offset="0.5962" stop-color="#3975ff"/><stop offset="0.6154" stop-color="#307efc"/><stop offset="0.6346" stop-color="#2e86f7"/><stop offset="0.6538" stop-color="#2d8ef1"/><stop offset="0.6731" stop-color="#2896ec"/><stop offset="0.6923" stop-color="#249fe6"/><stop offset="0.7115" stop-color="#1ea7e1"/><stop offset="0.7308" stop-color="#16afd9"/><stop offset="0.7500" stop-color="#05b5cf"/><stop offset="0.7692" stop-color="#02bbc3"/><stop offset="0.7885" stop-color="#1bc0b4"/><stop offset="0.8077" stop-color="#2ec4a5"/><stop offset="0.8269" stop-color="#39c994"/><stop offset="0.8462" stop-color="#4dcc82"/><stop offset="0.8654" stop-color="#66cd6d"/><stop offset="0.8846" stop-color="#88cb53"/><stop offset="0.9038" stop-color="#adc638"/><stop offset="0.9231" stop-color="#ccc028"/><stop offset="0.9423" stop-color="#eaba30"/><stop offset="0.9615" stop-color="#fec239"/><stop offset="0.9808" stop-color="#fbd42e"/><stop offset="1.0000" stop-color="#f5e427"/></linearGradient>
<linearGradient id="g1_5" x1="0" y1="0" x2="1" y2="0"><stop offset="0.0000" stop-color="#412cb9"/><stop offset="0.0192" stop-color="#412cba"/><stop offset="0.0385" stop-color="#412cba"/><stop offset="0.0577" stop-color="#422ec0"/><stop offset="0.0769" stop-color="#4330c5"/><stop offset="0.0962" stop-color="#4332ca"/><stop offset="0.1154" stop-color="#4330c4"/><stop offset="0.1346" stop-color="#412dbb"/><stop offset="0.1538" stop-color="#3f29b1"/><stop offset="0.1731" stop-color="#3e27ac"/><stop offset="0.1923" stop-color="#3e26a9"/><stop offset="0.2115" stop-color="#3e26a8"/><stop offset="0.2308" stop-color="#3e26a9"/><stop offset="0.2500" stop-color="#3e27aa"/><stop offset="0.2692" stop-color="#3f27ad"/><stop offset="0.2885" stop-color="#3f28b0"/><stop offset="0.3077" stop-color="#4029b3"/><stop offset="0.3269" stop-color="#402bb6"/><stop offset="0.3462" stop-color="#412cba"/><stop offset="0.3654" stop-color="#422ebf"/><stop offset="0.3846" stop-color="#4330c5"/><stop offset="0.4038" stop-color="#4433cb"/><stop offset="0.4231" stop-color="#4536d4"/><stop offset="0.4423" stop-color="#463adc"/><stop offset="0.4615" stop-color="#473fe2"/><stop offset="0.4808" stop-color="#4744e8"/><stop offset="0.5000" stop-color="#484aee"/><stop offset="0.5192" stop-color="#4851f3"/><stop offset="0.5385" stop-color="#4759f8"/><stop offset="0.5577" stop-color="#4562fc"/><stop offset="0.5769" stop-color="#416cfe"/><stop offset="0.5962" stop-color="#3975fe"/><stop offset="0.6154" stop-color="#307efb"/><stop offset="0.6346" stop-color="#2e86f8"/><stop offset="0.6538" stop-color="#2d8ef2"/><stop offset="0.6731" stop-color="#2895ec"/><stop offset="0.6923" stop-color="#249ee6"/><stop offset="0.7115" stop-color="#1ea7e1"/><stop offset="0.7308" stop-color="#17aeda"/><stop offset="0.7500" stop-color="#07b5d0"/><stop offset="0.7692" stop-color="#01bac4"/><stop offset="0.7885" stop-color="#18bfb6"/><stop offset="0.8077" stop-color="#2cc4a7"/><stop offset="0.8269" stop-color="#37c897"/><stop offset="0.8462" stop-color="#49cb85"/><stop offset="0.8654" stop-color="#61cd71"/><stop offset="0.8846" stop-color="#83cc57"/><stop offset="0.9038" stop-color="#a7c73c"/><stop offset="0.9231" stop-color="#c6c22a"/><stop offset="0.9423" stop-color="#e5bb2c"/><stop offset="0.9615" stop-color="#febf3b"/><stop offset="0.9808" stop-color="#fccf30"/><stop offset="1.0000" stop-color="#f6df29"/></linearGradient>
<linearGradient id="g1_6" x1="0" y1="0" x2="1" y2="0"><stop offset="0.0000" stop-color="#412cb9"/><stop offset="0.0192" stop-color="#412cb9"/><stop offset="0.0385" stop-color="#412cb9"/><stop offset="0.0577" stop-color="#412ebe"/><stop offset="0.0769" stop-color="#422fc2"/><stop offset="0.0962" stop-color="#4331c6"/><stop offset="0.1154" stop-color="#422fc1"/><stop offset="0.1346" stop-color="#412cb8"/><stop offset="0.1538" stop-color="#3f28ae"/><stop offset="0.1731" stop-color="#3e27aa"/><stop offset="0.1923" stop-color="#3e26a8"/><stop offset="0.2115" stop-color="#3e26a8"/><stop offset="0.2308" stop-color="#3e27a9"/><stop offset="0.2500" stop-color="#3e27ac"/><stop offset="0.2692" stop-color="#3f28af"/><stop offset="0.2885" stop-color="#3f29b2"/><stop offset="0.3077" stop-color="#402ab5"/><stop offset="0.3269" stop-color="#412cb9"/><stop offset="0.3462" stop-color="#412ebd"/><stop offset="0.3654" stop-color="#422fc3"/><stop offset="0.3846" stop-color="#4332c8"/><stop offset="0.4038" stop-color="#4434ce"/><stop offset="0.4231" stop-color="#4537d6"/><stop offset="0.4423" stop-color="#463bde"/><stop offset="0.4615" stop-color="#4740e4"/><stop offset="0.4808" stop-color="#4745e9"/><stop offset="0.5000" stop-color="#484cef"/><stop offset="0.5192" stop-color="#4852f4"/><stop offset="0.5385" stop-color="#475af9"/><stop offset="0.5577" stop-color="#4563fd"/><stop offset="0.5769" stop-color="#406cfe"/><stop offset="0.5962" stop-color="#3876fe"/><stop offset="0.6154" stop-color="#307efb"/><stop offset="0.6346" stop-color="#2e86f8"/><stop offset="0.6538" stop-color="#2d8df2"/><stop offset="0.6731" stop-color="#2895ec"/><stop offset="0.6923" stop-color="#249ee6"/><stop offset="0.7115" stop-color="#1fa6e2"/><stop offset="0.7308" stop-color="#17aeda"/><stop offset="0.7500" stop-color="#08b4d1"/><stop offset="0.7692" stop-color="#01bac5"/><stop offset="0.7885" stop-color="#16bfb7"/><stop offset="0.8077" stop-color="#2bc3a8"/><stop offset="0.8269" stop-color="#36c899"/><stop offset="0.8462" stop-color="#46cb88"/><stop offset="0.8654" stop-color="#5dcd75"/><stop offset="0.8846" stop-color="#7dcc5b"/><stop offset="0.9038" stop-color="#a1c840"/><stop offset="0.9231" stop-color="#c0c32d"/><stop offset="0.9423" stop-color="#e0bc2a"/><stop offset="0.9615" stop-color="#fcbc3e"/><stop offset="0.9808" stop-color="#fecb33"/><stop offset="1.0000" stop-color="#f8da2b"/></linearGradient>
<linearGradient id="g1_7" x1="0" y1="0" x2="1" y2="0"><stop offset="0.0000" stop-color="#412cb9"/><stop offset="0.0192" stop-color="#412cb8"/><stop offset="0.0385" stop-color="#402bb8"/><stop offset="0.0577" stop-color="#412dbb"/><stop offset="0.0769" stop-color="#422ebf"/><stop offset="0.0962" stop-color="#422fc2"/><stop offset="0.1154" stop-color="#412dbd"/><stop offset="0.1346" stop-color="#402ab5"/><stop offset="0.1538" stop-color="#3e27ac"/><stop offset="0.1731" stop-color="#3e26a9"/><stop offset="0.1923" stop-color="#3e26a8"/><stop offset="0.2115" stop-color="#3e26a9"/><stop offset="0.2308" stop-color="#3e27aa"/><stop offset="0.2500" stop-color="#3f28ad"/><stop offset="0.2692" stop-color="#3f29b0"/><stop offset="0.2885" stop-color="#402ab4"/><stop offset="0.3077" stop-color="#402bb8"/><stop offset="0.3269" stop-color="#412dbc"/><stop offset="0.3462" stop-color="#422fc1"/><stop offset="0.3654" stop-color="#4331c6"/><stop offset="0.3846" stop-color="#4433cc"/><stop offset="0.4038" stop-color="#4435d1"/><stop offset="0.4231" stop-color="#4539d9"/><stop offset="0.4423" stop-color="#463de0"/><stop offset="0.4615" stop-color="#4741e6"/><stop offset="0.4808" stop-color="#4747eb"/><stop offset="0.5000" stop-color="#484df1"/><stop offset="0.5192" stop-color="#4854f5"/><stop offset="0.5385" stop-color="#475bf9"/><stop offset="0.5577" stop-color="#4564fd"/><stop offset="0.5769" stop-color="#406dfe"/><stop offset="0.5962" stop-color="#3876fe"/><stop offset="0.6154" stop-color="#307efb"/><stop offset="0.6346" stop-color="#2e86f8"/><stop offset="0.6538" stop-color="#2d8df2"/><stop offset="0.6731" stop-color="#2995ec"/><stop offset="0.6923" stop-color="#259de6"/><stop offset="0.7115" stop-color="#1fa6e2"/><stop offset="0.7308" stop-color="#18addb"/><stop offset="0.7500" stop-color="#0ab4d1"/><stop offset="0.7692" stop-color="#00b9c6"/><stop offset="0.7885" stop-color="#13beb8"/><stop offset="0.8077" stop-color="#29c3aa"/><stop offset="0.8269" stop-color="#34c79b"/><stop offset="0.8462" stop-color="#43ca8b"/><stop offset="0.8654" stop-color="#59cc79"/><stop offset="0.8846" stop-color="#77cc60"/><stop offset="0.9038" stop-color="#9bc945"/><stop offset="0.9231" stop-color="#b9c430"/><stop offset="0.9423" stop-color="#dabd28"/><stop offset="0.9615" stop-color="#f8ba3d"/><stop offset="0.9808" stop-color="#fec736"/><stop offset="1.0000" stop-color="#fad52e"/></linearGradient>
<linearGradient id="g1_8" x1="0" y1="0" x2="1" y2="0"><stop offset="0.0000" stop-color="#412cb9"/><stop offset="0.0192" stop-color="#402bb8"/><stop offset="0.0385" stop-color="#402bb6"/><stop offset="0.0577" stop-color="#412cb9"/><stop offset="0.0769" stop-color="#412dbc"/><stop offset="0.0962" stop-color="#412ebe"/><stop offset="0.1154" stop-color="#412cb9"/><stop offset="0.1346" stop-color="#3f29b2"/><stop offset="0.1538" stop-color="#3e27aa"/><stop offset="0.1731" stop-color="#3e26a8"/><stop offset="0.1923" stop-color="#3e26a9"/><stop offset="0.2115" stop-color="#3e27a9"/><stop offset="0.2308" stop-color="#3e27ab"/><stop offset="0.2500" stop-color="#3f28af"/><stop offset="0.2692" stop-color="#3f29b2"/><stop offset="0.2885" stop-color="#402bb6"/><stop offset="0.3077" stop-color="#412cba"/><stop offset="0.3269" stop-color="#422ebf"/><stop offset="0.3462" stop-color="#4330c5"/><stop offset="0.3654" stop-color="#4332ca"/><stop offset="0.3846" stop-color="#4434cf"/><stop offset="0.4038" stop-color="#4536d4"/><stop offset="0.4231" stop-color="#463adb"/><stop offset="0.4423" stop-color="#473ee1"/><stop offset="0.4615" stop-color="#4743e7"/><stop offset="0.4808" stop-color="#4848ec"/><stop offset="0.5000" stop-color="#484ff2"/><stop offset="0.5192" stop-color="#4855f6"/><stop offset="0.5385" stop-color="#475cfa"/><stop offset="0.5577" stop-color="#4465fd"/><stop offset="0.5769" stop-color="#3f6eff"/><stop offset="0.5962" stop-color="#3777fe"/><stop offset="0.6154" stop-color="#307efb"/><stop offset="0.6346" stop-color="#2e85f8"/><stop offset="0.6538" stop-color="#2d8df2"/><stop offset="0.6731" stop-color="#2994ed"/><stop offset="0.6923" stop-color="#259de7"/><stop offset="0.7115" stop-color="#1fa5e2"/><stop offset="0.7308" stop-color="#19addc"/><stop offset="0.7500" stop-color="#0bb3d2"/><stop offset="0.7692" stop-color="#00b9c7"/><stop offset="0.7885" stop-color="#10beba"/><stop offset="0.8077" stop-color="#27c2ac"/><stop offset="0.8269" stop-color="#33c69d"/><stop offset="0.8462" stop-color="#40ca8d"/><stop offset="0.8654" stop-color="#54cc7c"/><stop offset="0.8846" stop-color="#72cd64"/><stop offset="0.9038" stop-color="#94ca4a"/><stop offset="0.9231" stop-color="#b3c534"/><stop offset="0.9423" stop-color="#d3bf27"/><stop offset="0.9615" stop-color="#f3ba39"/><stop offset="0.9808" stop-color="#fec239"/><stop offset="1.0000" stop-color="#fcd030"/></linearGradient>
<linearGradient id="g1_9" x1="0" y1="0" x2="1" y2="0"><stop offset="0.0000" stop-color="#412cb9"/><stop offset="0.0192" stop-color="#402bb7"/><stop offset="0.0385" stop-color="#402ab5"/><stop offset="0.0577" stop-color="#402bb7"/><stop offset="0.0769" stop-color="#412cb9"/><stop offset="0.0962" stop-color="#412cba"/><stop offset="0.1154" stop-color="#402bb6"/><stop offset="0.1346" stop-color="#3f28af"/><stop offset="0.1538" stop-color="#3e26a8"/><stop offset="0.1731" stop-color="#3e26a9"/><stop offset="0.1923" stop-color="#3e27aa"/><stop offset="0.2115" stop-color="#3e27aa"/><stop offset="0.2308" stop-color="#3e27ac"/><stop offset="0.2500" stop-color="#3f28b0"/><stop offset="0.2692" stop-color="#402ab4"/><stop offset="0.2885" stop-color="#402bb8"/><stop offset="0.3077" stop-color="#412dbc"/><stop offset="0.3269" stop-color="#422fc2"/><stop offset="0.3462" stop-color="#4331c8"/><stop offset="0.3654" stop-color="#4433cd"/><stop offset="0.3846" stop-color="#4535d2"/><stop offset="0.4038" stop-color="#4538d7"/><stop offset="0.4231" stop-color="#463bdd"/><stop offset="0.4423" stop-color="#473fe3"/><stop offset="0.4615" stop-color="#4744e9"/><stop offset="0.4808" stop-color="#484aed"/><stop offset="0.5000" stop-color="#4850f3"/><stop offset="0.5192" stop-color="#4757f7"/><stop offset="0.5385" stop-color="#465dfb"/><stop offset="0.5577" stop-color="#4466fd"/><stop offset="0.5769" stop-color="#3f6fff"/><stop offset="0.5962" stop-color="#3777fe"/><stop offset="0.6154" stop-color="#307efb"/><stop offset="0.6346" stop-color="#2e85f8"/><stop offset="0.6538" stop-color="#2d8df2"/><stop offset="0.6731" stop-color="#2994ed"/><stop offset="0.6923" stop-color="#259ce7"/><stop offset="0.7115" stop-color="#20a5e2"/><stop offset="0.7308" stop-color="#19acdc"/><stop offset="0.7500" stop-color="#0db3d3"/><stop offset="0.7692" stop-color="#00b8c8"/><stop offset="0.7885" stop-color="#0ebdbb"/><stop offset="0.8077" stop-color="#25c2ae"/><stop offset="0.8269" stop-color="#31c69f"/><stop offset="0.8462" stop-color="#3dca90"/><stop offset="0.8654" stop-color="#50cc80"/><stop offset="0.8846" stop-color="#6ccd68"/><stop offset="0.9038" stop-color="#8ecb4e"/><stop offset="0.9231" stop-color="#acc738"/><stop offset="0.9423" stop-color="#cdc028"/><stop offset="0.9615" stop-color="#edba33"/><stop offset="0.9808" stop-color="#febe3c"/><stop offset="1.0000" stop-color="#fecb33"/></linearGradient>
<linearGradient id="g2_0" x1="0" y1="0" x2="1" y2="0"><stop offset="0.0000" stop-color="#412cb9"/><stop offset="0.0192" stop-color="#412ebd"/><stop offset="0.0385" stop-color="#422fc2"/><stop offset="0.0577" stop-color="#4433cb"/><stop offset="0.0769" stop-color="#4537d5"/><stop offset="0.0962" stop-color="#463bdd"/><stop offset="0.1154" stop-color="#4537d6"/><stop offset="0.1346" stop-color="#4433cb"/><stop offset="0.1538" stop-color="#412ebd"/><stop offset="0.1731" stop-color="#402bb7"/><stop offset="0.1923" stop-color="#3f29b0"/><stop offset="0.2115" stop-color="#3e27ac"/><stop offset="0.2308" stop-color="#3e27aa"/><stop offset="0.2500" stop-color="#3e27a9"/><stop offset="0.2692" stop-color="#3e26a8"/><stop offset="0.2885" stop-color="#3e26a8"/><stop offset="0.3077" stop-color="#3e26a8"/><stop offset="0.3269" stop-color="#3e26a9"/><stop offset="0.3462" stop-color="#3e27a9"/><stop offset="0.3654" stop-color="#3f28ae"/><stop offset="0.3846" stop-color="#402ab5"/><stop offset="0.4038" stop-color="#412dbc"/><stop offset="0.4231" stop-color="#4331c7"/><stop offset="0.4423" stop-color="#4434d0"/><stop offset="0.4615" stop-color="#4538d8"/><stop offset="0.4808" stop-color="#463cdf"/><stop offset="0.5000" stop-color="#4742e7"/><stop offset="0.5192" stop-color="#484aee"/><stop offset="0.5385" stop-color="#4853f5"/><stop offset="0.5577" stop-color="#465dfb"/><stop offset="0.5769" stop-color="#4368fe"/><stop offset="0.5962" stop-color="#3b73ff"/><stop offset="0.6154" stop-color="#317dfc"/><stop offset="0.6346" stop-color="#2e86f7"/><stop offset="0.6538" stop-color="#2c90f0"/><stop offset="0.6731" stop-color="#2798ea"/><stop offset="0.6923" stop-color="#22a1e4"/><stop offset="0.7115" stop-color="#1caadf"/><stop offset="0.7308" stop-color="#10b2d5"/><stop offset="0.7500" stop-color="#01b8c9"/><stop offset="0.7692" stop-color="#0cbdbc"/><stop offset="0.7885" stop-color="#27c2ac"/><stop offset="0.8077" stop-color="#35c79a"/><stop offset="0.8269" stop-color="#48cb86"/><stop offset="0.8462" stop-color="#62cd70"/><stop offset="0.8654" stop-color="#82cc58"/><stop offset="0.8846" stop-color="#a7c73b"/><stop offset="0.9038" stop-color="#ccc028"/><stop offset="0.9231" stop-color="#eaba30"/><stop offset="0.9423" stop-color="#fec13a"/><stop offset="0.9615" stop-color="#f8d92c"/><stop offset="0.9808" stop-color="#f5ed21"/><stop offset="1.0000" stop-color="#f9fb15"/></linearGradient>
<linearGradient id="g2_1" x1="0" y1="0" x2="1" y2="0"><stop offset="0.0000" stop-color="#412cb9"/><stop offset="0.0192" stop-color="#412dbd"/><stop offset="0.0385" stop-color="#422fc0"/><stop offset="0.0577" stop-color="#4332c9"/><stop offset="0.0769" stop-color="#4535d2"/><stop offset="0.0962" stop-color="#4639d9"/><stop offset="0.1154" stop-color="#4536d3"/><stop offset="0.1346" stop-color="#4331c8"/><stop offset="0.1538" stop-color="#412dbb"/><stop offset="0.1731" stop-color="#402ab5"/><stop offset="0.1923" stop-color="#3f28af"/><stop offset="0.2115" stop-color="#3e27ab"/><stop offset="0.2308" stop-color="#3e27a9"/><stop offset="0.2500" stop-color="#3e26a8"/><stop offset="0.2692" stop-color="#3e26a8"/><stop offset="0.2885" stop-color="#3e26a9"/><stop offset="0.3077" stop-color="#3e27aa"/><stop offset="0.3269" stop-color="#3e27ab"/><stop offset="0.3462" stop-color="#3e27ac"/><stop offset="0.3654" stop-color="#3f29b1"/><stop offset="0.3846" stop-color="#402bb8"/><stop offset="0.4038" stop-color="#422ebf"/><stop offset="0.4231" stop-color="#4332c9"/><stop offset="0.4423" stop-color="#4535d3"/><stop offset="0.4615" stop-color="#4639da"/><stop offset="0.4808" stop-color="#463ee1"/><stop offset="0.5000" stop-color="#4744e8"/><stop offset="0.5192" stop-color="#484bef"/><stop offset="0.5385" stop-color="#4854f5"/><stop offset="0.5577" stop-color="#465efb"/><stop offset="0.5769" stop-color="#4369fe"/><stop offset="0.5962" stop-color="#3a73ff"/><stop offset="0.6154" stop-color="#317dfc"/><stop offset="0.6346" stop-color="#2e86f7"/><stop offset="0.6538" stop-color="#2c8ff0"/><stop offset="0.6731" stop-color="#2797ea"/><stop offset="0.6923" stop-color="#23a1e5"/><stop offset="0.7115" stop-color="#1caadf"/><stop offset="0.7308" stop-color="#12b1d6"/><stop offset="0.7500" stop-color="#01b7cb"/><stop offset="0.7692" stop-color="#09bdbe"/><stop offset="0.7885" stop-color="#25c2ae"/><stop offset="0.8077" stop-color="#33c69d"/><stop offset="0.8269" stop-color="#44cb8a"/><stop offset="0.8462" stop-color="#5dcd75"/><stop offset="0.8654" stop-color="#7bcc5d"/><stop offset="0.8846" stop-color="#a0c841"/><stop offset="0.9038" stop-color="#c5c22a"/><stop offset="0.9231" stop-color="#e3bb2b"/><stop offset="0.9423" stop-color="#febd3d"/><stop offset="0.9615" stop-color="#fbd32e"/><stop offset="0.9808" stop-color="#f5e725"/><stop offset="1.0000" stop-color="#f8f917"/></linearGradient>
<linearGradient id="g2_2" x1="0" y1="0" x2="1" y2="0"><stop offset="0.0000" stop-color="#412cb9"/><stop offset="0.0192" stop-color="#412dbc"/><stop offset="0.0385" stop-color="#422ebf"/><stop offset="0.0577" stop-color="#4331c7"/><stop offset="0.0769" stop-color="#4434cf"/><stop offset="0.0962" stop-color="#4537d6"/><stop offset="0.1154" stop-color="#4434cf"/><stop offset="0.1346" stop-color="#4330c5"/><stop offset="0.1538" stop-color="#412cb8"/><stop offset="0.1731" stop-color="#4029b2"/><stop offset="0.1923" stop-color="#3f28ad"/><stop offset="0.2115" stop-color="#3e27aa"/><stop offset="0.2308" stop-color="#3e26a9"/><stop offset="0.2500" stop-color="#3e26a8"/><stop offset="0.2692" stop-color="#3e26a9"/><stop offset="0.2885" stop-color="#3e27aa"/><stop offset="0.3077" stop-color="#3e27ac"/><stop offset="0.3269" stop-color="#3f28ae"/><stop offset="0.3462" stop-color="#3f28af"/><stop offset="0.3654" stop-color="#402ab4"/><stop offset="0.3846" stop-color="#412dbb"/><stop offset="0.4038" stop-color="#422fc2"/><stop offset="0.4231" stop-color="#4433cc"/><stop offset="0.4423" stop-color="#4537d5"/><stop offset="0.4615" stop-color="#463bdc"/><stop offset="0.4808" stop-color="#473fe3"/><stop offset="0.5000" stop-color="#4746ea"/><stop offset="0.5192" stop-color="#484df0"/><stop offset="0.5385" stop-color="#4855f6"/><stop offset="0.5577" stop-color="#465ffb"/><stop offset="0.5769" stop-color="#4269fe"/><stop offset="0.5962" stop-color="#3a74ff"/><stop offset="0.6154" stop-color="#317dfc"/><stop offset="0.6346" stop-color="#2e86f7"/><stop offset="0.6538" stop-color="#2c8ff1"/><stop offset="0.6731" stop-color="#2797eb"/><stop offset="0.6923" stop-color="#23a0e5"/><stop offset="0.7115" stop-color="#1da9e0"/><stop offset="0.7308" stop-color="#13b0d7"/><stop offset="0.7500" stop-color="#02b7cc"/><stop offset="0.7692" stop-color="#06bcbf"/><stop offset="0.7885" stop-color="#22c1b0"/><stop offset="0.8077" stop-color="#31c6a0"/><stop offset="0.8269" stop-color="#40ca8d"/><stop offset="0.8462" stop-color="#58cc79"/><stop offset="0.8654" stop-color="#74cd62"/><stop offset="0.8846" stop-color="#99c946"/><stop offset="0.9038" stop-color="#bec32e"/><stop offset="0.9231" stop-color="#dcbd29"/><stop offset="0.9423" stop-color="#f9ba3d"/><stop offset="0.9615" stop-color="#fdce31"/><stop offset="0.9808" stop-color="#f5e128"/><stop offset="1.0000" stop-color="#f6f21e"/></linearGradient>
<linearGradient id="g2_3" x1="0" y1="0" x2="1" y2="0"><stop offset="0.0000" stop-color="#412cb9"/><stop offset="0.0192" stop-color="#412dbb"/><stop offset="0.0385" stop-color="#412ebd"/><stop offset="0.0577" stop-color="#4330c4"/><stop offset="0.0769" stop-color="#4433cc"/><stop offset="0.0962" stop-color="#4535d2"/><stop offset="0.1154" stop-color="#4433cc"/><stop offset="0.1346" stop-color="#422fc2"/><stop offset="0.1538" stop-color="#402bb6"/><stop offset="0.1731" stop-color="#3f29b0"/><stop offset="0.1923" stop-color="#3e27ab"/><stop offset="0.2115" stop-color="#3e27a9"/><stop offset="0.2308" stop-color="#3e26a8"/><stop offset="0.2500" stop-color="#3e26a8"/><stop offset="0.2692" stop-color="#3e27aa"/><stop offset="0.2885" stop-color="#3e27ac"/><stop offset="0.3077" stop-color="#3f28ae"/><stop offset="0.3269" stop-color="#3f29b0"/><stop offset="0.3462" stop-color="#4029b3"/><stop offset="0.3654" stop-color="#402bb8"/><stop offset="0.3846" stop-color="#422ebe"/><stop offset="0.4038" stop-color="#4330c5"/><stop offset="0.4231" stop-color="#4434cf"/><stop offset="0.4423" stop-color="#4538d7"/><stop offset="0.4615" stop-color="#463cde"/><stop offset="0.4808" stop-color="#4741e5"/><stop offset="0.5000" stop-color="#4747eb"/><stop offset="0.5192" stop-color="#484ef1"/><stop offset="0.5385" stop-color="#4756f7"/><stop offset="0.5577" stop-color="#4660fc"/><stop offset="0.5769" stop-color="#426afe"/><stop offset="0.5962" stop-color="#3974ff"/><stop offset="0.6154" stop-color="#307efc"/><stop offset="0.6346" stop-color="#2e86f7"/><stop offset="0.6538" stop-color="#2d8ef1"/><stop offset="0.6731" stop-color="#2796eb"/><stop offset="0.6923" stop-color="#249fe5"/><stop offset="0.7115" stop-color="#1da8e0"/><stop offset="0.7308" stop-color="#14b0d8"/><stop offset="0.7500" stop-color="#04b6cd"/><stop offset="0.7692" stop-color="#04bbc1"/><stop offset="0.7885" stop-color="#1fc0b2"/><stop offset="0.8077" stop-color="#30c5a2"/><stop offset="0.8269" stop-color="#3cc991"/><stop offset="0.8462" stop-color="#53cc7d"/><stop offset="0.8654" stop-color="#6dcd67"/><stop offset="0.8846" stop-color="#91ca4c"/><stop offset="0.9038" stop-color="#b6c532"/><stop offset="0.9231" stop-color="#d5be27"/><stop offset="0.9423" stop-color="#f2ba38"/><stop offset="0.9615" stop-color="#fec834"/><stop offset="0.9808" stop-color="#f7db2b"/><stop offset="1.0000" stop-color="#f5ec23"/></linearGradient>
<linearGradient id="g2_4" x1="0" y1="0" x2="1" y2="0"><stop offset="0.0000" stop-color="#412cb9"/><stop offset="0.0192" stop-color="#412cba"/><stop offset="0.0385" stop-color="#412dbc"/><stop offset="0.0577" stop-color="#422fc2"/><stop offset="0.0769" stop-color="#4332c9"/><stop offset="0.0962" stop-color="#4434ce"/><stop offset="0.1154" stop-color="#4331c8"/><stop offset="0.1346" stop-color="#422ebf"/><stop offset="0.1538" stop-color="#402ab3"/><stop offset="0.1731" stop-color="#3f28ae"/><stop offset="0.1923" stop-color="#3e27aa"/><stop offset="0.2115" stop-color="#3e26a9"/><stop offset="0.2308" stop-color="#3e26a8"/><stop offset="0.2500" stop-color="#3e27a9"/><stop offset="0.2692" stop-color="#3e27ab"/><stop offset="0.2885" stop-color="#3f28ae"/><stop offset="0.3077" stop-color="#3f29b0"/><stop offset="0.3269" stop-color="#402ab3"/><stop offset="0.3462" stop-color="#402bb6"/><stop offset="0.3654" stop-color="#412dbb"/><stop offset="0.3846" stop-color="#422fc2"/><stop offset="0.4038" stop-color="#4332c8"/><stop offset="0.4231" stop-color="#4435d1"/><stop offset="0.4423" stop-color="#4639d9"/><stop offset="0.4615" stop-color="#463de0"/><stop offset="0.4808" stop-color="#4742e6"/><stop offset="0.5000" stop-color="#4849ed"/><stop offset="0.5192" stop-color="#4850f2"/><stop offset="0.5385" stop-color="#4757f7"/><stop offset="0.5577" stop-color="#4661fc"/><stop offset="0.5769" stop-color="#416bfe"/><stop offset="0.5962" stop-color="#3975ff"/><stop offset="0.6154" stop-color="#307efc"/><stop offset="0.6346" stop-color="#2e86f7"/><stop offset="0.6538" stop-color="#2d8ef1"/><stop offset="0.6731" stop-color="#2896ec"/><stop offset="0.6923" stop-color="#249fe5"/><stop offset="0.7115" stop-color="#1ea7e1"/><stop offset="0.7308" stop-color="#16afd9"/><stop offset="0.7500" stop-color="#05b5cf"/><stop offset="0.7692" stop-color="#02bbc2"/><stop offset="0.7885" stop-color="#1bc0b4"/><stop offset="0.8077" stop-color="#2ec4a5"/><stop offset="0.8269" stop-color="#3ac994"/><stop offset="0.8462" stop-color="#4ecc82"/><stop offset="0.8654" stop-color="#66cd6d"/><stop offset="0.8846" stop-color="#89cb52"/><stop offset="0.9038" stop-color="#aec637"/><stop offset="0.9231" stop-color="#cdc028"/><stop offset="0.9423" stop-color="#ebba31"/><stop offset="0.9615" stop-color="#fec338"/><stop offset="0.9808" stop-color="#fad52e"/><stop offset="1.0000" stop-color="#f5e526"/></linearGradient>
<linearGradient id="g2_5" x1="0" y1="0" x2="1" y2="0"><stop offset="0.0000" stop-color="#412cb9"/><stop offset="0.0192" stop-color="#412cba"/><stop offset="0.0385" stop-color="#412cba"/><stop offset="0.0577" stop-color="#422ec0"/><stop offset="0.0769" stop-color="#4330c5"/><stop offset="0.0962" stop-color="#4332ca"/><stop offset="0.1154" stop-color="#4330c4"/><stop offset="0.1346" stop-color="#412dbb"/><stop offset="0.1538" stop-color="#3f29b1"/><stop offset="0.1731" stop-color="#3e27ac"/><stop offset="0.1923" stop-color="#3e26a9"/><stop offset="0.2115" stop-color="#3e26a8"/><stop offset="0.2308" stop-color="#3e26a9"/><stop offset="0.2500" stop-color="#3e27aa"/><stop offset="0.2692" stop-color="#3f27ad"/><stop offset="0.2885" stop-color="#3f28b0"/><stop offset="0.3077" stop-color="#4029b3"/><stop offset="0.3269" stop-color="#402bb6"/><stop offset="0.3462" stop-color="#412cba"/><stop offset="0.3654" stop-color="#422ebf"/><stop offset="0.3846" stop-color="#4330c5"/><stop offset="0.4038" stop-color="#4433cb"/><stop offset="0.4231" stop-color="#4536d4"/><stop offset="0.4423" stop-color="#463adc"/><stop offset="0.4615" stop-color="#473fe2"/><stop offset="0.4808" stop-color="#4744e8"/><stop offset="0.5000" stop-color="#484aee"/><stop offset="0.5192" stop-color="#4851f3"/><stop offset="0.5385" stop-color="#4759f8"/><stop offset="0.5577" stop-color="#4562fc"/><stop offset="0.5769" stop-color="#416cfe"/><stop offset="0.5962" stop-color="#3975fe"/><stop offset="0.6154" stop-color="#307efb"/><stop offset="0.6346" stop-color="#2e86f8"/><stop offset="0.6538" stop-color="#2d8ef2"/><stop offset="0.6731" stop-color="#2895ec"/><stop offset="0.6923" stop-color="#249ee6"/><stop offset="0.7115" stop-color="#1ea7e1"/><stop offset="0.7308" stop-color="#17aeda"/><stop offset="0.7500" stop-color="#07b5d0"/><stop offset="0.7692" stop-color="#01bac4"/><stop offset="0.7885" stop-color="#18bfb6"/><stop offset="0.8077" stop-color="#2cc4a7"/><stop offset="0.8269" stop-color="#37c897"/><stop offset="0.8462" stop-color="#49cb86"/><stop offset="0.8654" stop-color="#60cd72"/><stop offset="0.8846" stop-color="#82cc58"/><stop offset="0.9038" stop-color="#a6c83d"/><stop offset="0.9231" stop-color="#c5c22a"/><stop offset="0.9423" stop-color="#e4bb2c"/><stop offset="0.9615" stop-color="#febe3c"/><stop offset="0.9808" stop-color="#fdce31"/><stop offset="1.0000" stop-color="#f6de29"/></linearGradient>
<linearGradient id="g2_6" x1="0" y1="0" x2="1" y2="0"><stop offset="0.0000" stop-color="#412cb9"/><stop offset="0.0192" stop-color="#412cb9"/><stop offset="0.0385" stop-color="#412cb9"/><stop offset="0.0577" stop-color="#412ebe"/><stop offset="0.0769" stop-color="#422fc2"/><stop offset="0.0962" stop-color="#4331c6"/><stop offset="0.1154" stop-color="#422fc1"/><stop offset="0.1346" stop-color="#412cb8"/><stop offset="0.1538" stop-color="#3f28ae"/><stop offset="0.1731" stop-color="#3e27aa"/><stop offset="0.1923" stop-color="#3e26a8"/><stop offset="0.2115" stop-color="#3e26a8"/><stop offset="0.2308" stop-color="#3e27a9"/><stop offset="0.2500" stop-color="#3e27ac"/><stop offset="0.2692" stop-color="#3f28af"/><stop offset="0.2885" stop-color="#3f29b2"/><stop offset="0.3077" stop-color="#402ab5"/><stop offset="0.3269" stop-color="#412cb9"/><stop offset="0.3462" stop-color="#412ebd"/><stop offset="0.3654" stop-color="#422fc3"/><stop offset="0.3846" stop-color="#4332c8"/><stop offset="0.4038" stop-color="#4434ce"/><stop offset="0.4231" stop-color="#4537d6"/><stop offset="0.4423" stop-color="#463bde"/><stop offset="0.4615" stop-color="#4740e4"/><stop offset="0.4808" stop-color="#4745e9"/><stop offset="0.5000" stop-color="#484cef"/><stop offset="0.5192" stop-color="#4852f4"/><stop offset="0.5385" stop-color="#475af9"/><stop offset="0.5577" stop-color="#4563fd"/><stop offset="0.5769" stop-color="#406cfe"/><stop offset="0.5962" stop-color="#3876fe"/><stop offset="0.6154" stop-color="#307efb"/><stop offset="0.6346" stop-color="#2e86f8"/><stop offset="0.6538" stop-color="#2d8df2"/><stop offset="0.6731" stop-color="#2895ec"/><stop offset="0.6923" stop-color="#249de6"/><stop offset="0.7115" stop-color="#1fa6e2"/><stop offset="0.7308" stop-color="#18aedb"/><stop offset="0.7500" stop-color="#09b4d1"/><stop offset="0.7692" stop-color="#00bac6"/><stop offset="0.7885" stop-color="#14bfb8"/><stop offset="0.8077" stop-color="#2ac3a9"/><stop offset="0.8269" stop-color="#35c79a"/><stop offset="0.8462" stop-color="#44cb89"/><stop offset="0.8654" stop-color="#5acc77"/><stop offset="0.8846" stop-color="#7acc5e"/><stop offset="0.9038" stop-color="#9dc943"/><stop offset="0.9231" stop-color="#bcc42f"/><stop offset="0.9423" stop-color="#dcbd29"/><stop offset="0.9615" stop-color="#fabb3e"/><stop offset="0.9808" stop-color="#fec834"/><stop offset="1.0000" stop-color="#f9d72d"/></linearGradient>
<linearGradient id="g2_7" x1="0" y1="0" x2="1" y2="0"><stop offset="0.0000" stop-color="#412cb9"/><stop offset="0.0192" stop-color="#412cb8"/><stop offset="0.0385" stop-color="#402bb8"/><stop offset="0.0577" stop-color="#412dbb"/><stop offset="0.0769" stop-color="#422ebf"/><stop offset="0.0962" stop-color="#422fc2"/><stop offset="0.1154" stop-color="#412dbd"/><stop offset="0.1346" stop-color="#402ab5"/><stop offset="0.1538" stop-color="#3e27ac"/><stop offset="0.1731" stop-color="#3e26a9"/><stop offset="0.1923" stop-color="#3e26a8"/><stop offset="0.2115" stop-color="#3e26a9"/><stop offset="0.2308" stop-color="#3e27aa"/><stop offset="0.2500" stop-color="#3f28ad"/><stop offset="0.2692" stop-color="#3f29b0"/><stop offset="0.2885" stop-color="#402ab4"/><stop offset="0.3077" stop-color="#402bb8"/><stop offset="0.3269" stop-color="#412dbc"/><stop offset="0.3462" stop-color="#422fc1"/><stop offset="0.3654" stop-color="#4331c6"/><stop offset="0.3846" stop-color="#4433cc"/><stop offset="0.4038" stop-color="#4435d1"/><stop offset="0.4231" stop-color="#4539d9"/><stop offset="0.4423" stop-color="#463de0"/><stop offset="0.4615" stop-color="#4741e6"/><stop offset="0.4808" stop-color="#4747eb"/><stop offset="0.5000" stop-color="#484df1"/><stop offset="0.5192" stop-color="#4854f5"/><stop offset="0.5385" stop-color="#475bf9"/><stop offset="0.5577" stop-color="#4564fd"/><stop offset="0.5769" stop-color="#406dfe"/><stop offset="0.5962" stop-color="#3876fe"/><stop offset="0.6154" stop-color="#307efb"/><stop offset="0.6346" stop-color="#2e86f8"/><stop offset="0.6538" stop-color="#2d8df2"/><stop offset="0.6731" stop-color="#2994ed"/><stop offset="0.6923" stop-color="#259de6"/><stop offset="0.7115" stop-color="#1fa5e2"/><stop offset="0.7308" stop-color="#19addc"/><stop offset="0.7500" stop-color="#0bb3d2"/><stop offset="0.7692" stop-color="#00b9c7"/><stop offset="0.7885" stop-color="#10beba"/><stop offset="0.8077" stop-color="#27c2ac"/><stop offset="0.8269" stop-color="#33c69d"/><stop offset="0.8462" stop-color="#40ca8d"/><stop offset="0.8654" stop-color="#55cc7c"/><stop offset="0.8846" stop-color="#72cd64"/><stop offset="0.9038" stop-color="#95ca49"/><stop offset="0.9231" stop-color="#b3c534"/><stop offset="0.9423" stop-color="#d4bf27"/><stop offset="0.9615" stop-color="#f3ba39"/><stop offset="0.9808" stop-color="#fec339"/><stop offset="1.0000" stop-color="#fcd030"/></linearGradient>
<linearGradient id="g2_8" x1="0" y1="0" x2="1" y2="0"><stop offset="0.0000" stop-color="#412cb9"/><stop offset="0.0192" stop-color="#402bb8"/><stop offset="0.0385" stop-color="#402bb6"/><stop offset="0.0577" stop-color="#412cb9"/><stop offset="0.0769" stop-color="#412dbc"/><stop offset="0.0962" stop-color="#412ebe"/><stop offset="0.1154" stop-color="#412cb9"/><stop offset="0.1346" stop-color="#3f29b2"/><stop offset="0.1538" stop-color="#3e27aa"/><stop offset="0.1731" stop-color="#3e26a8"/><stop offset="0.1923" stop-color="#3e26a9"/><stop offset="0.2115" stop-color="#3e27a9"/><stop offset="0.2308" stop-color="#3e27ab"/><stop offset="0.2500" stop-color="#3f28af"/><stop offset="0.2692" stop-color="#3f29b2"/><stop offset="0.2885" stop-color="#402bb6"/><stop offset="0.3077" stop-color="#412cba"/><stop offset="0.3269" stop-color="#422ebf"/><stop offset="0.3462" stop-color="#4330c5"/><stop offset="0.3654" stop-color="#4332ca"/><stop offset="0.3846" stop-color="#4434cf"/><stop offset="0.4038" stop-color="#4536d4"/><stop offset="0.4231" stop-color="#463adb"/><stop offset="0.4423" stop-color="#473ee1"/><stop offset="0.4615" stop-color="#4743e7"/><stop offset="0.4808" stop-color="#4848ec"/><stop offset="0.5000" stop-color="#484ff2"/><stop offset="0.5192" stop-color="#4855f6"/><stop offset="0.5385" stop-color="#475cfa"/><stop offset="0.5577" stop-color="#4465fd"/><stop offset="0.5769" stop-color="#3f6eff"/><stop offset="0.5962" stop-color="#3777fe"/><stop offset="0.6154" stop-color="#307efb"/><stop offset="0.6346" stop-color="#2e85f8"/><stop offset="0.6538" stop-color="#2d8cf3"/><stop offset="0.6731" stop-color="#2994ed"/><stop offset="0.6923" stop-color="#259ce7"/><stop offset="0.7115" stop-color="#20a5e3"/><stop offset="0.7308" stop-color="#1aacdd"/><stop offset="0.7500" stop-color="#0eb3d4"/><stop offset="0.7692" stop-color="#00b8c9"/><stop offset="0.7885" stop-color="#0dbdbc"/><stop offset="0.8077" stop-color="#24c1ae"/><stop offset="0.8269" stop-color="#31c6a0"/><stop offset="0.8462" stop-color="#3cc991"/><stop offset="0.8654" stop-color="#4fcc81"/><stop offset="0.8846" stop-color="#6acd6a"/><stop offset="0.9038" stop-color="#8ccb50"/><stop offset="0.9231" stop-color="#aac73a"/><stop offset="0.9423" stop-color="#cbc128"/><stop offset="0.9615" stop-color="#ebba31"/><stop offset="0.9808" stop-color="#febd3d"/><stop offset="1.0000" stop-color="#fec934"/></linearGradient>
<linearGradient id="g2_9" x1="0" y1="0" x2="1" y2="0"><stop offset="0.0000" stop-color="#412cb9"/><stop offset="0.0192" stop-color="#402bb7"/><stop offset="0.0385" stop-color="#402ab5"/><stop offset="0.0577" stop-color="#402bb7"/><stop offset="0.0769" stop-color="#412cb9"/><stop offset="0.0962" stop-color="#412cba"/><stop offset="0.1154" stop-color="#402bb6"/><stop offset="0.1346" stop-color="#3f28af"/><stop offset="0.1538" stop-color="#3e26a8"/><stop offset="0.1731" stop-color="#3e26a9"/><stop offset="0.1923" stop-color="#3e27aa"/><stop offset="0.2115" stop-color="#3e27aa"/><stop offset="0.2308" stop-color="#3e27ac"/><stop offset="0.2500" stop-color="#3f28b0"/><stop offset="0.2692" stop-color="#402ab4"/><stop offset="0.2885" stop-color="#402bb8"/><stop offset="0.3077" stop-color="#412dbc"/><stop offset="0.3269" stop-color="#422fc2"/><stop offset="0.3462" stop-color="#4331c8"/><stop offset="0.3654" stop-color="#4433cd"/><stop offset="0.3846" stop-color="#4535d2"/><stop offset="0.4038" stop-color="#4538d7"/><stop offset="0.4231" stop-color="#463bdd"/><stop offset="0.4423" stop-color="#473fe3"/><stop offset="0.4615" stop-color="#4744e9"/><stop offset="0.4808" stop-color="#484aed"/><stop offset="0.5000" stop-color="#4850f3"/><stop offset="0.5192" stop-color="#4757f7"/><stop offset="0.5385" stop-color="#465dfb"/><stop offset="0.5577" stop-color="#4466fd"/><stop offset="0.5769" stop-color="#3f6fff"/><stop offset="0.5962" stop-color="#3777fe"/><stop offset="0.6154" stop-color="#307efb"/><stop offset="0.6346" stop-color="#2e85f8"/><stop offset="0.6538" stop-color="#2d8cf3"/><stop offset="0.6731" stop-color="#2a93ed"/><stop offset="0.6923" stop-color="#259ce7"/><stop offset="0.7115" stop-color="#20a4e3"/><stop offset="0.7308" stop-color="#1aabdd"/><stop offset="0.7500" stop-color="#10b2d5"/><stop offset="0.7692" stop-color="#01b7ca"/><stop offset="0.7885" stop-color="#09bdbe"/><stop offset="0.8077" stop-color="#21c1b0"/><stop offset="0.8269" stop-color="#2fc5a3"/><stop offset="0.8462" stop-color="#39c995"/><stop offset="0.8654" stop-color="#49cb85"/><stop offset="0.8846" stop-color="#63cd70"/><stop offset="0.9038" stop-color="#83cc57"/><stop offset="0.9231" stop-color="#a0c841"/><stop offset="0.9423" stop-color="#c1c32c"/><stop offset="0.9615" stop-color="#e3bc2b"/><stop offset="0.9808" stop-color="#f7ba3d"/><stop offset="1.0000" stop-color="#fec239"/></linearGradient>
<linearGradient id="cb" x1="0" y1="0" x2="0" y2="1"><stop offset="0.0000" stop-color="#f9fb15"/><stop offset="0.0156" stop-color="#f7f51b"/><stop offset="0.0312" stop-color="#f6ef20"/><stop offset="0.0469" stop-color="#f5e924"/><stop offset="0.0625" stop-color="#f5e327"/><stop offset="0.0781" stop-color="#f7dd2a"/><stop offset="0.0938" stop-color="#f9d62d"/><stop offset="0.1094" stop-color="#fcd030"/><stop offset="0.1250" stop-color="#feca33"/><stop offset="0.1406" stop-color="#fec437"/><stop offset="0.1562" stop-color="#febe3c"/><stop offset="0.1719" stop-color="#f9ba3e"/><stop offset="0.1875" stop-color="#f1ba37"/><stop offset="0.2031" stop-color="#e8bb2f"/><stop offset="0.2188" stop-color="#debc29"/><stop offset="0.2344" stop-color="#d4bf27"/><stop offset="0.2500" stop-color="#c8c129"/><stop offset="0.2656" stop-color="#bcc42f"/><stop offset="0.2812" stop-color="#afc636"/><stop offset="0.2969" stop-color="#a2c840"/><stop offset="0.3125" stop-color="#94ca4a"/><stop offset="0.3281" stop-color="#85cb55"/><stop offset="0.3438" stop-color="#77cc60"/><stop offset="0.3594" stop-color="#69cd6b"/><stop offset="0.3750" stop-color="#5ccc76"/><stop offset="0.3906" stop-color="#4fcc80"/><stop offset="0.4062" stop-color="#43cb8a"/><stop offset="0.4219" stop-color="#3ac993"/><stop offset="0.4375" stop-color="#34c79c"/><stop offset="0.4531" stop-color="#2ec5a4"/><stop offset="0.4688" stop-color="#28c2ab"/><stop offset="0.4844" stop-color="#1ec0b2"/><stop offset="0.5000" stop-color="#12beb9"/><stop offset="0.5156" stop-color="#05bcc0"/><stop offset="0.5312" stop-color="#00b9c6"/><stop offset="0.5469" stop-color="#03b6cd"/><stop offset="0.5625" stop-color="#0cb3d3"/><stop offset="0.5781" stop-color="#15b0d8"/><stop offset="0.5938" stop-color="#1aacdd"/><stop offset="0.6094" stop-color="#1ea7e1"/><stop offset="0.6250" stop-color="#21a3e3"/><stop offset="0.6406" stop-color="#249ee6"/><stop offset="0.6562" stop-color="#269ae9"/><stop offset="0.6719" stop-color="#2895ec"/><stop offset="0.6875" stop-color="#2c90f0"/><stop offset="0.7031" stop-color="#2d8bf4"/><stop offset="0.7188" stop-color="#2e85f8"/><stop offset="0.7344" stop-color="#2f80fb"/><stop offset="0.7500" stop-color="#347afd"/><stop offset="0.7656" stop-color="#3a74ff"/><stop offset="0.7812" stop-color="#3f6eff"/><stop offset="0.7969" stop-color="#4368fe"/><stop offset="0.8125" stop-color="#4562fc"/><stop offset="0.8281" stop-color="#475dfa"/><stop offset="0.8438" stop-color="#4757f7"/><stop offset="0.8594" stop-color="#4852f4"/><stop offset="0.8750" stop-color="#484cef"/><stop offset="0.8906" stop-color="#4746eb"/><stop offset="0.9062" stop-color="#4741e5"/><stop offset="0.9219" stop-color="#463bdd"/><stop offset="0.9375" stop-color="#4536d5"/><stop offset="0.9531" stop-color="#4332ca"/><stop offset="0.9688" stop-color="#422ebf"/><stop offset="0.9844" stop-color="#402ab4"/><stop offset="1.0000" stop-color="#3e26a8"/></linearGradient>
<g id="bl0"><rect x="0" y="-0.5" width="1" height="1" fill="url(#g0_5)"/><rect x="0" y="0.3800" width="1" height="0.1200" fill="url(#g0_0)"/><rect x="0" y="0.2800" width="1" height="0.1400" fill="url(#g0_1)"/><rect x="0" y="0.1800" width="1" height="0.1400" fill="url(#g0_2)"/><rect x="0" y="0.0800" width="1" height="0.1400" fill="url(#g0_3)"/><rect x="0" y="-0.0200" width="1" height="0.1400" fill="url(#g0_4)"/><rect x="0" y="-0.1200" width="1" height="0.1400" fill="url(#g0_5)"/><rect x="0" y="-0.2200" width="1" height="0.1400" fill="url(#g0_6)"/><rect x="0" y="-0.3200" width="1" height="0.1400" fill="url(#g0_7)"/><rect x="0" y="-0.4200" width="1" height="0.1400" fill="url(#g0_8)"/><rect x="0" y="-0.5000" width="1" height="0.1200" fill="url(#g0_9)"/></g>
<g id="bl1"><rect x="0" y="-0.5" width="1" height="1" fill="url(#g1_5)"/><rect x="0" y="0.3800" width="1" height="0.1200" fill="url(#g1_0)"/><rect x="0" y="0.2800" width="1" height="0.1400" fill="url(#g1_1)"/><rect x="0" y="0.1800" width="1" height="0.1400" fill="url(#g1_2)"/><rect x="0" y="0.0800" width="1" height="0.1400" fill="url(#g1_3)"/><rect x="0" y="-0.0200" width="1" height="0.1400" fill="url(#g1_4)"/><rect x="0" y="-0.1200" width="1" height="0.1400" fill="url(#g1_5)"/><rect x="0" y="-0.2200" width="1" height="0.1400" fill="url(#g1_6)"/><rect x="0" y="-0.3200" width="1" height="0.1400" fill="url(#g1_7)"/><rect x="0" y="-0.4200" width="1" height="0.1400" fill="url(#g1_8)"/><rect x="0" y="-0.5000" width="1" height="0.1200" fill="url(#g1_9)"/></g>
<g id="bl2"><rect x="0" y="-0.5" width="1" height="1" fill="url(#g2_5)"/><rect x="0" y="0.3800" width="1" height="0.1200" fill="url(#g2_0)"/><rect x="0" y="0.2800" width="1" height="0.1400" fill="url(#g2_1)"/><rect x="0" y="0.1800" width="1" height="0.1400" fill="url(#g2_2)"/><rect x="0" y="0.0800" width="1" height="0.1400" fill="url(#g2_3)"/><rect x="0" y="-0.0200" width="1" height="0.1400" fill="url(#g2_4)"/><rect x="0" y="-0.1200" width="1" height="0.1400" fill="url(#g2_5)"/><rect x="0" y="-0.2200" width="1" height="0.1400" fill="url(#g2_6)"/><rect x="0" y="-0.3200" width="1" height="0.1400" fill="url(#g2_7)"/><rect x="0" y="-0.4200" width="1" height="0.1400" fill="url(#g2_8)"/><rect x="0" y="-0.5000" width="1" height="0.1200" fill="url(#g2_9)"/></g>
<filter id="soft" x="-5%" y="-5%" width="110%" height="110%"><feGaussianBlur stdDeviation="0.75"/></filter>
</defs>
<rect width="2230" height="1980" fill="#fff"/>
<g filter="url(#soft)">
<use href="#bl2" transform="translate(1097.00,704.20) rotate(-93.104) scale(559.52,26.42)"/>
<use href="#bl2" transform="translate(1150.80,704.00) rotate(-79.990) scale(558.60,26.38)"/>
<use href="#bl2" transform="translate(1201.80,715.00) rotate(-66.848) scale(560.32,26.22)"/>
<use href="#bl2" transform="translate(1249.10,737.10) rotate(-53.971) scale(566.82,25.97)"/>
<use href="#bl2" transform="translate(1291.40,767.70) rotate(-41.471) scale(572.14,25.68)"/>
<use href="#bl2" transform="translate(1324.50,805.80) rotate(-29.145) scale(578.21,25.42)"/>
<use href="#bl1" transform="translate(1348.20,850.00) rotate(-16.976) scale(582.59,25.21)"/>
<use href="#bl0" transform="translate(1361.50,899.50) rotate(-5.061) scale(586.08,25.11)"/>
<use href="#bl0" transform="translate(1363.10,950.20) rotate(6.790) scale(585.31,25.11)"/>
<use href="#bl1" transform="translate(1354.90,999.50) rotate(18.896) scale(581.12,25.24)"/>
<use href="#bl2" transform="translate(1333.40,1046.20) rotate(31.145) scale(575.79,25.46)"/>
<use href="#bl2" transform="translate(1302.10,1087.00) rotate(43.544) scale(570.61,25.73)"/>
<use href="#bl2" transform="translate(1262.90,1121.70) rotate(56.456) scale(563.91,26.02)"/>
<use href="#bl2" transform="translate(1215.80,1145.00) rotate(69.645) scale(560.61,26.26)"/>
<use href="#bl2" transform="translate(1164.80,1160.10) rotate(82.792) scale(557.10,26.40)"/>
<use href="#bl2" transform="translate(1110.60,1163.30) rotate(95.915) scale(557.97,26.41)"/>
<use href="#bl2" transform="translate(1060.00,1155.70) rotate(108.820) scale(559.83,26.28)"/>
<use href="#bl2" transform="translate(1011.50,1138.40) rotate(121.435) scale(565.26,26.07)"/>
<use href="#bl2" transform="translate(967.40,1110.50) rotate(134.135) scale(571.27,25.79)"/>
<use href="#bl2" transform="translate(930.60,1074.40) rotate(146.767) scale(577.68,25.50)"/>
<use href="#bl1" transform="translate(910.70,1045.60) rotate(155.034) scale(581.87,25.34)"/>
<use href="#bl1" transform="translate(890.90,999.40) rotate(167.136) scale(586.62,25.16)"/>
<use href="#bl0" transform="translate(881.10,949.80) rotate(179.066) scale(588.98,25.10)"/>
<use href="#bl1" transform="translate(883.50,899.10) rotate(-169.166) scale(587.88,25.14)"/>
<use href="#bl1" transform="translate(896.20,850.20) rotate(-157.136) scale(582.68,25.30)"/>
<use href="#bl2" transform="translate(919.90,806.50) rotate(-144.914) scale(577.42,25.54)"/>
<use href="#bl2" transform="translate(954.10,767.20) rotate(-132.274) scale(571.00,25.83)"/>
<use href="#bl2" transform="translate(996.20,736.10) rotate(-119.391) scale(565.03,26.11)"/>
<use href="#bl2" transform="translate(1044.80,713.90) rotate(-106.330) scale(560.51,26.32)"/>
</g>
<g stroke="#262626" stroke-width="2.6" fill="none" stroke-linecap="butt">
<path d="M241.5,94.6 V1769.9 H2004.1" stroke-linejoin="miter"/>
<path d="M241.5,1769.9 v-17.3"/>
<path d="M241.5,1769.9 h20"/>
<path d="M417.6,1769.9 v-17.3"/>
<path d="M241.5,1602.6 h20"/>
<path d="M593.8,1769.9 v-17.3"/>
<path d="M241.5,1435.3 h20"/>
<path d="M769.9,1769.9 v-17.3"/>
<path d="M241.5,1268.0 h20"/>
<path d="M946.0,1769.9 v-17.3"/>
<path d="M241.5,1100.7 h20"/>
<path d="M1122.2,1769.9 v-17.3"/>
<path d="M241.5,933.4 h20"/>
<path d="M1298.3,1769.9 v-17.3"/>
<path d="M241.5,766.1 h20"/>
<path d="M1474.4,1769.9 v-17.3"/>
<path d="M241.5,598.8 h20"/>
<path d="M1650.5,1769.9 v-17.3"/>
<path d="M241.5,431.5 h20"/>
<path d="M1826.7,1769.9 v-17.3"/>
<path d="M241.5,264.2 h20"/>
</g>
<path d="M241.5,96.9 h20" stroke="#747474" stroke-width="4.2" fill="none"/>
<path d="M2002.8,1769.9 v-17.3" stroke="#6a6a6a" stroke-width="4.0" fill="none"/>
<g font-family="'Liberation Sans', Arial, sans-serif" font-size="46" fill="#262626">
<text transform="translate(166.2,1839.8) scale(1,1.04)">−<tspan dx="5.8">1000</tspan></text>
<text transform="translate(222.3,1791.2) scale(1,1.04)" text-anchor="end">−<tspan dx="5.8">1000</tspan></text>
<text transform="translate(355.1,1839.8) scale(1,1.04)">−<tspan dx="5.8">800</tspan></text>
<text transform="translate(222.3,1621.9) scale(1,1.04)" text-anchor="end">−<tspan dx="5.8">800</tspan></text>
<text transform="translate(531.2,1839.8) scale(1,1.04)">−<tspan dx="5.8">600</tspan></text>
<text transform="translate(222.3,1454.6) scale(1,1.04)" text-anchor="end">−<tspan dx="5.8">600</tspan></text>
<text transform="translate(707.4,1839.8) scale(1,1.04)">−<tspan dx="5.8">400</tspan></text>
<text transform="translate(222.3,1287.3) scale(1,1.04)" text-anchor="end">−<tspan dx="5.8">400</tspan></text>
<text transform="translate(883.5,1839.8) scale(1,1.04)">−<tspan dx="5.8">200</tspan></text>
<text transform="translate(222.3,1120.0) scale(1,1.04)" text-anchor="end">−<tspan dx="5.8">200</tspan></text>
<text transform="translate(1122.7,1839.8) scale(1,1.04)" text-anchor="middle">0</text>
<text transform="translate(222.3,952.7) scale(1,1.04)" text-anchor="end">0</text>
<text transform="translate(1298.8,1839.8) scale(1,1.04)" text-anchor="middle">200</text>
<text transform="translate(222.3,785.4) scale(1,1.04)" text-anchor="end">200</text>
<text transform="translate(1474.9,1839.8) scale(1,1.04)" text-anchor="middle">400</text>
<text transform="translate(222.3,618.1) scale(1,1.04)" text-anchor="end">400</text>
<text transform="translate(1651.0,1839.8) scale(1,1.04)" text-anchor="middle">600</text>
<text transform="translate(222.3,450.8) scale(1,1.04)" text-anchor="end">600</text>
<text transform="translate(1827.2,1839.8) scale(1,1.04)" text-anchor="middle">800</text>
<text transform="translate(222.3,283.5) scale(1,1.04)" text-anchor="end">800</text>
<text transform="translate(2003.3,1839.8) scale(1,1.04)" text-anchor="middle">1000</text>
<text transform="translate(222.3,116.2) scale(1,1.04)" text-anchor="end">1000</text>
</g>
<g font-family="'Liberation Serif', 'Times New Roman', serif" font-size="82.55" fill="#000">
<text transform="translate(1116.5,1943.6) scale(1,1.045)" text-anchor="middle">Streamwise distance from hub (mm)</text>
<text transform="translate(84.8,944.2) rotate(-90) scale(1,1.045)" font-size="82.55" text-anchor="middle">Streamwise distance from hub (mm)</text>
<text transform="translate(2120,65.7) scale(1,1.045)" text-anchor="middle">mm</text>
</g>
<rect x="2078.0" y="95.7" width="84.30000000000018" height="1674.1" fill="url(#cb)"/>
<path d="M2162.3,94.5 V1769.8 H2076.8" fill="none" stroke="#3c3c3c" stroke-width="2.4"/>
<path d="M2078.0,1771.0 V95.7 H2163.5" fill="none" stroke="#b2b2b2" stroke-width="2.6"/>
<path d="M2079.8,1768.6 V97.5 H2161.1000000000004" fill="none" stroke="#000" stroke-opacity="0.38" stroke-width="1.1"/>
<g stroke="#262626" stroke-width="2.6">
<path d="M2162.3,1601.0 h-17.5"/>
<path d="M2162.3,1418.8 h-17.5"/>
<path d="M2162.3,1236.7 h-17.5"/>
<path d="M2162.3,1054.5 h-17.5"/>
<path d="M2162.3,872.4 h-17.5"/>
<path d="M2162.3,690.2 h-17.5"/>
<path d="M2162.3,508.1 h-17.5"/>
<path d="M2162.3,326.0 h-17.5"/>
<path d="M2162.3,143.8 h-17.5"/>
</g>
<g font-family="'Liberation Sans', Arial, sans-serif" font-size="41.0" fill="#262626">
<text transform="translate(2180.6,1618.1) scale(1,1.04)">1</text>
<text transform="translate(2180.6,1435.9) scale(1,1.04)">2</text>
<text transform="translate(2180.6,1253.8) scale(1,1.04)">3</text>
<text transform="translate(2180.6,1071.6) scale(1,1.04)">4</text>
<text transform="translate(2180.6,889.5) scale(1,1.04)">5</text>
<text transform="translate(2180.6,707.4) scale(1,1.04)">6</text>
<text transform="translate(2180.6,525.2) scale(1,1.04)">7</text>
<text transform="translate(2180.6,343.1) scale(1,1.04)">8</text>
<text transform="translate(2180.6,160.9) scale(1,1.04)">9</text>
</g>
</svg>
</body></html>
